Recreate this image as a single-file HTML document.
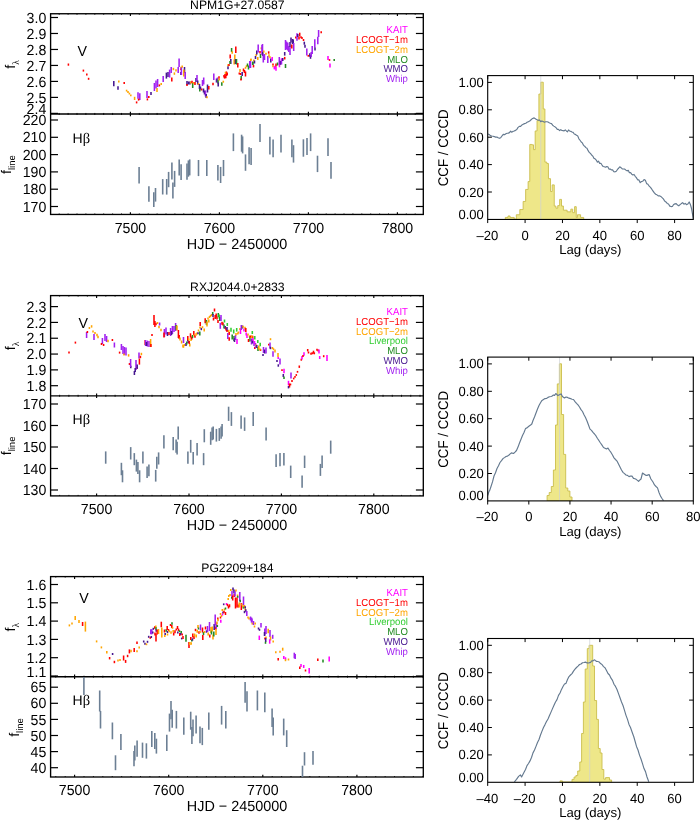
<!DOCTYPE html>
<html><head><meta charset="utf-8"><title>Light curves and CCF</title>
<style>html,body{margin:0;padding:0;background:#fff}svg{display:block;will-change:transform}text{font-family:"Liberation Sans", sans-serif;text-rendering:geometricPrecision}</style>
</head><body>
<svg width="700" height="820" viewBox="0 0 700 820">
<rect width="700" height="820" fill="#fff"/>
<g>
<line x1="68.4" y1="63.5" x2="68.4" y2="65.7" stroke="#ff0000" stroke-width="1.55"/>
<line x1="83.4" y1="69.6" x2="83.4" y2="71.6" stroke="#ff0000" stroke-width="1.55"/>
<line x1="86.8" y1="73.6" x2="86.8" y2="75.6" stroke="#ff0000" stroke-width="1.55"/>
<line x1="88.6" y1="77.8" x2="88.6" y2="79.8" stroke="#ff0000" stroke-width="1.55"/>
<line x1="113.8" y1="81" x2="113.8" y2="86.2" stroke="#46168f" stroke-width="1.55"/>
<line x1="118" y1="86.3" x2="118" y2="89.7" stroke="#46168f" stroke-width="1.55"/>
<line x1="118.8" y1="80.4" x2="118.8" y2="82.4" stroke="#ffa500" stroke-width="1.55"/>
<line x1="124.2" y1="82" x2="124.2" y2="84" stroke="#ff0000" stroke-width="1.55"/>
<line x1="126.6" y1="89.7" x2="126.6" y2="91.5" stroke="#ffa500" stroke-width="1.55"/>
<line x1="128" y1="91.1" x2="128" y2="92.9" stroke="#ffa500" stroke-width="1.55"/>
<line x1="129.4" y1="92.7" x2="129.4" y2="94.5" stroke="#ffa500" stroke-width="1.55"/>
<line x1="130.8" y1="94.5" x2="130.8" y2="96.3" stroke="#ffa500" stroke-width="1.55"/>
<line x1="134.6" y1="96.8" x2="134.6" y2="100" stroke="#ffa500" stroke-width="1.55"/>
<line x1="136.6" y1="101.4" x2="136.6" y2="103.4" stroke="#ff0000" stroke-width="1.55"/>
<line x1="138" y1="92.3" x2="138" y2="98.7" stroke="#a020f0" stroke-width="1.55"/>
<line x1="139.8" y1="93.2" x2="139.8" y2="100" stroke="#a020f0" stroke-width="1.55"/>
<line x1="138.6" y1="98.6" x2="138.6" y2="100.6" stroke="#ff0000" stroke-width="1.55"/>
<line x1="147" y1="90.9" x2="147" y2="97.9" stroke="#a020f0" stroke-width="1.55"/>
<line x1="147.4" y1="98.4" x2="147.4" y2="100.4" stroke="#ff0000" stroke-width="1.55"/>
<line x1="148.8" y1="96" x2="148.8" y2="98" stroke="#ff0000" stroke-width="1.55"/>
<line x1="151" y1="91.9" x2="151" y2="94.9" stroke="#46168f" stroke-width="1.55"/>
<line x1="154.4" y1="83" x2="154.4" y2="91" stroke="#a020f0" stroke-width="1.55"/>
<line x1="156" y1="80.4" x2="156" y2="88.4" stroke="#a020f0" stroke-width="1.55"/>
<line x1="157.6" y1="79" x2="157.6" y2="87" stroke="#a020f0" stroke-width="1.55"/>
<line x1="157" y1="88" x2="157" y2="92" stroke="#ffa500" stroke-width="1.55"/>
<line x1="159.4" y1="84.4" x2="159.4" y2="86.4" stroke="#ff0000" stroke-width="1.55"/>
<line x1="161.2" y1="83" x2="161.2" y2="85" stroke="#ffa500" stroke-width="1.55"/>
<line x1="163.2" y1="76" x2="163.2" y2="82" stroke="#a020f0" stroke-width="1.55"/>
<line x1="166.4" y1="72.6" x2="166.4" y2="78.6" stroke="#46168f" stroke-width="1.55"/>
<line x1="168" y1="71.9" x2="168" y2="76.9" stroke="#46168f" stroke-width="1.55"/>
<line x1="169.6" y1="69.6" x2="169.6" y2="77.6" stroke="#a020f0" stroke-width="1.55"/>
<line x1="171.2" y1="67" x2="171.2" y2="73" stroke="#a020f0" stroke-width="1.55"/>
<line x1="171.8" y1="77.6" x2="171.8" y2="81.6" stroke="#ff0000" stroke-width="1.55"/>
<line x1="173.4" y1="67.8" x2="173.4" y2="70.2" stroke="#ffa500" stroke-width="1.55"/>
<line x1="174.4" y1="72.4" x2="174.4" y2="74.8" stroke="#ffa500" stroke-width="1.55"/>
<line x1="176" y1="69.2" x2="176" y2="71.6" stroke="#ffa500" stroke-width="1.55"/>
<line x1="179.1" y1="58.6" x2="179.1" y2="67" stroke="#a020f0" stroke-width="1.55"/>
<line x1="178.2" y1="67" x2="178.2" y2="73" stroke="#a020f0" stroke-width="1.55"/>
<line x1="180.9" y1="68" x2="180.9" y2="70" stroke="#ff0000" stroke-width="1.55"/>
<line x1="180.9" y1="72" x2="180.9" y2="75" stroke="#46168f" stroke-width="1.55"/>
<line x1="181" y1="66.8" x2="181" y2="69.2" stroke="#ffa500" stroke-width="1.55"/>
<line x1="181.4" y1="67" x2="181.4" y2="75" stroke="#a020f0" stroke-width="1.55"/>
<line x1="182.2" y1="65.4" x2="182.2" y2="67.8" stroke="#ffa500" stroke-width="1.55"/>
<line x1="184.5" y1="67" x2="184.5" y2="73" stroke="#46168f" stroke-width="1.55"/>
<line x1="183.8" y1="69.5" x2="183.8" y2="76.5" stroke="#ffa500" stroke-width="1.55"/>
<line x1="185.2" y1="72" x2="185.2" y2="79" stroke="#a020f0" stroke-width="1.55"/>
<line x1="187" y1="81" x2="187" y2="85" stroke="#46168f" stroke-width="1.55"/>
<line x1="187" y1="84" x2="187" y2="86" stroke="#ff0000" stroke-width="1.55"/>
<line x1="188.5" y1="81.5" x2="188.5" y2="84.5" stroke="#46168f" stroke-width="1.55"/>
<line x1="190" y1="81.5" x2="190" y2="84.5" stroke="#46168f" stroke-width="1.55"/>
<line x1="190.8" y1="81.5" x2="190.8" y2="83.5" stroke="#ffa500" stroke-width="1.55"/>
<line x1="192" y1="80.8" x2="192" y2="83.2" stroke="#ff0000" stroke-width="1.55"/>
<line x1="192.7" y1="83" x2="192.7" y2="88" stroke="#228b22" stroke-width="1.55"/>
<line x1="193.5" y1="82" x2="193.5" y2="84" stroke="#ffa500" stroke-width="1.55"/>
<line x1="195" y1="82" x2="195" y2="85" stroke="#ff0000" stroke-width="1.55"/>
<line x1="196" y1="78" x2="196" y2="82" stroke="#46168f" stroke-width="1.55"/>
<line x1="197" y1="75" x2="197" y2="81" stroke="#a020f0" stroke-width="1.55"/>
<line x1="197.7" y1="80.5" x2="197.7" y2="84.5" stroke="#46168f" stroke-width="1.55"/>
<line x1="198.5" y1="83" x2="198.5" y2="85" stroke="#ffa500" stroke-width="1.55"/>
<line x1="199.5" y1="84" x2="199.5" y2="89" stroke="#46168f" stroke-width="1.55"/>
<line x1="199.8" y1="88.5" x2="199.8" y2="91.5" stroke="#228b22" stroke-width="1.55"/>
<line x1="200.5" y1="86.5" x2="200.5" y2="89.5" stroke="#46168f" stroke-width="1.55"/>
<line x1="201.7" y1="88.5" x2="201.7" y2="90.5" stroke="#ff0000" stroke-width="1.55"/>
<line x1="202.5" y1="80" x2="202.5" y2="86" stroke="#a020f0" stroke-width="1.55"/>
<line x1="203.7" y1="77.5" x2="203.7" y2="84.5" stroke="#a020f0" stroke-width="1.55"/>
<line x1="203.5" y1="88.5" x2="203.5" y2="92.5" stroke="#46168f" stroke-width="1.55"/>
<line x1="204.5" y1="90.5" x2="204.5" y2="94.5" stroke="#46168f" stroke-width="1.55"/>
<line x1="205.5" y1="90.5" x2="205.5" y2="96.5" stroke="#a020f0" stroke-width="1.55"/>
<line x1="206.2" y1="94" x2="206.2" y2="98" stroke="#46168f" stroke-width="1.55"/>
<line x1="207" y1="96.2" x2="207" y2="98.2" stroke="#ffa500" stroke-width="1.55"/>
<line x1="207.5" y1="84.5" x2="207.5" y2="92.5" stroke="#46168f" stroke-width="1.55"/>
<line x1="208.8" y1="86" x2="208.8" y2="89.6" stroke="#ff0000" stroke-width="1.55"/>
<line x1="213" y1="82.7" x2="213" y2="85.3" stroke="#ff0000" stroke-width="1.55"/>
<line x1="213.8" y1="73.6" x2="213.8" y2="80" stroke="#a020f0" stroke-width="1.55"/>
<line x1="216.5" y1="78.5" x2="216.5" y2="82.5" stroke="#46168f" stroke-width="1.55"/>
<line x1="217.5" y1="77.5" x2="217.5" y2="82.5" stroke="#a020f0" stroke-width="1.55"/>
<line x1="218" y1="79.5" x2="218" y2="83.5" stroke="#228b22" stroke-width="1.55"/>
<line x1="219" y1="76.3" x2="219" y2="78.7" stroke="#ff0000" stroke-width="1.55"/>
<line x1="219.2" y1="78.5" x2="219.2" y2="80.5" stroke="#ffa500" stroke-width="1.55"/>
<line x1="218.2" y1="82.5" x2="218.2" y2="86.5" stroke="#46168f" stroke-width="1.55"/>
<line x1="221.8" y1="82.2" x2="221.8" y2="85.8" stroke="#228b22" stroke-width="1.55"/>
<line x1="223.3" y1="80.7" x2="223.3" y2="82.7" stroke="#ffa500" stroke-width="1.55"/>
<line x1="224" y1="74.9" x2="224" y2="77.5" stroke="#ff0000" stroke-width="1.55"/>
<line x1="225" y1="74.1" x2="225" y2="76.9" stroke="#ff0000" stroke-width="1.55"/>
<line x1="226.2" y1="73" x2="226.2" y2="76" stroke="#ff0000" stroke-width="1.55"/>
<line x1="227.2" y1="72.6" x2="227.2" y2="75.4" stroke="#ff0000" stroke-width="1.55"/>
<line x1="225.8" y1="75.8" x2="225.8" y2="78.2" stroke="#ff0000" stroke-width="1.55"/>
<line x1="224.6" y1="76.4" x2="224.6" y2="78.6" stroke="#ff0000" stroke-width="1.55"/>
<line x1="226.4" y1="71.4" x2="226.4" y2="73.6" stroke="#ff0000" stroke-width="1.55"/>
<line x1="225.5" y1="71.8" x2="225.5" y2="73.8" stroke="#ffa500" stroke-width="1.55"/>
<line x1="228" y1="66.3" x2="228" y2="69.3" stroke="#46168f" stroke-width="1.55"/>
<line x1="228" y1="64.2" x2="228" y2="66.2" stroke="#ffa500" stroke-width="1.55"/>
<line x1="229" y1="64" x2="229" y2="66" stroke="#ff0000" stroke-width="1.55"/>
<line x1="230.2" y1="54.5" x2="230.2" y2="58.5" stroke="#ff0000" stroke-width="1.55"/>
<line x1="230.8" y1="59" x2="230.8" y2="64" stroke="#46168f" stroke-width="1.55"/>
<line x1="230" y1="61" x2="230" y2="64" stroke="#228b22" stroke-width="1.55"/>
<line x1="231.6" y1="48" x2="231.6" y2="52" stroke="#228b22" stroke-width="1.55"/>
<line x1="232.2" y1="51.3" x2="232.2" y2="53.7" stroke="#ffa500" stroke-width="1.55"/>
<line x1="234.8" y1="54.5" x2="234.8" y2="59.5" stroke="#ffa500" stroke-width="1.55"/>
<line x1="234.2" y1="59.5" x2="234.2" y2="64.5" stroke="#ffa500" stroke-width="1.55"/>
<line x1="235.8" y1="46.5" x2="235.8" y2="53.1" stroke="#ff0000" stroke-width="1.55"/>
<line x1="235.5" y1="59" x2="235.5" y2="64" stroke="#46168f" stroke-width="1.55"/>
<line x1="236.5" y1="59" x2="236.5" y2="64.6" stroke="#228b22" stroke-width="1.55"/>
<line x1="237.8" y1="63" x2="237.8" y2="67.4" stroke="#ff0000" stroke-width="1.55"/>
<line x1="240" y1="69" x2="240" y2="72" stroke="#ffa500" stroke-width="1.55"/>
<line x1="239.3" y1="72.5" x2="239.3" y2="74.5" stroke="#ff0000" stroke-width="1.55"/>
<line x1="240.5" y1="73" x2="240.5" y2="75" stroke="#ff0000" stroke-width="1.55"/>
<line x1="242.2" y1="72" x2="242.2" y2="76" stroke="#46168f" stroke-width="1.55"/>
<line x1="241.2" y1="76" x2="241.2" y2="80" stroke="#228b22" stroke-width="1.55"/>
<line x1="241" y1="78.6" x2="241" y2="80.4" stroke="#ff0000" stroke-width="1.55"/>
<line x1="243.5" y1="68.5" x2="243.5" y2="71.5" stroke="#ff0000" stroke-width="1.55"/>
<line x1="244.5" y1="70" x2="244.5" y2="73" stroke="#ff0000" stroke-width="1.55"/>
<line x1="245.5" y1="71.5" x2="245.5" y2="76.5" stroke="#ff0000" stroke-width="1.55"/>
<line x1="245.5" y1="66.8" x2="245.5" y2="68.8" stroke="#ffa500" stroke-width="1.55"/>
<line x1="246.5" y1="65.2" x2="246.5" y2="67.2" stroke="#ffa500" stroke-width="1.55"/>
<line x1="247.5" y1="63.5" x2="247.5" y2="66.5" stroke="#228b22" stroke-width="1.55"/>
<line x1="248.5" y1="65.5" x2="248.5" y2="69.5" stroke="#228b22" stroke-width="1.55"/>
<line x1="249.8" y1="61" x2="249.8" y2="68" stroke="#a020f0" stroke-width="1.55"/>
<line x1="251" y1="58.5" x2="251" y2="60.5" stroke="#ffa500" stroke-width="1.55"/>
<line x1="252.7" y1="62" x2="252.7" y2="65" stroke="#228b22" stroke-width="1.55"/>
<line x1="250.5" y1="61" x2="250.5" y2="68" stroke="#a020f0" stroke-width="1.55"/>
<line x1="250.8" y1="59" x2="250.8" y2="61" stroke="#ffa500" stroke-width="1.55"/>
<line x1="252.8" y1="61.4" x2="252.8" y2="65" stroke="#228b22" stroke-width="1.55"/>
<line x1="253.5" y1="65" x2="253.5" y2="67.4" stroke="#ff0000" stroke-width="1.55"/>
<line x1="253.8" y1="59.5" x2="253.8" y2="61.5" stroke="#ffa500" stroke-width="1.55"/>
<line x1="254.5" y1="60.5" x2="254.5" y2="63.5" stroke="#46168f" stroke-width="1.55"/>
<line x1="255.5" y1="56" x2="255.5" y2="59" stroke="#46168f" stroke-width="1.55"/>
<line x1="256.2" y1="54" x2="256.2" y2="56" stroke="#ffa500" stroke-width="1.55"/>
<line x1="256.8" y1="50.5" x2="256.8" y2="54.5" stroke="#46168f" stroke-width="1.55"/>
<line x1="257.8" y1="57" x2="257.8" y2="60" stroke="#ffa500" stroke-width="1.55"/>
<line x1="258.2" y1="44.5" x2="258.2" y2="52.5" stroke="#a020f0" stroke-width="1.55"/>
<line x1="260" y1="50.9" x2="260" y2="53.5" stroke="#ff0000" stroke-width="1.55"/>
<line x1="260.5" y1="54" x2="260.5" y2="58" stroke="#228b22" stroke-width="1.55"/>
<line x1="261.3" y1="47.3" x2="261.3" y2="49.3" stroke="#ffa500" stroke-width="1.55"/>
<line x1="262" y1="45" x2="262" y2="55" stroke="#a020f0" stroke-width="1.55"/>
<line x1="262.5" y1="44" x2="262.5" y2="52" stroke="#a020f0" stroke-width="1.55"/>
<line x1="262.8" y1="52" x2="262.8" y2="56" stroke="#46168f" stroke-width="1.55"/>
<line x1="263.3" y1="54.5" x2="263.3" y2="62.5" stroke="#a020f0" stroke-width="1.55"/>
<line x1="264.5" y1="54" x2="264.5" y2="60" stroke="#a020f0" stroke-width="1.55"/>
<line x1="263.8" y1="50.5" x2="263.8" y2="52.5" stroke="#ffa500" stroke-width="1.55"/>
<line x1="266" y1="52.8" x2="266" y2="54.8" stroke="#ffa500" stroke-width="1.55"/>
<line x1="268.7" y1="51.3" x2="268.7" y2="53.7" stroke="#ff0000" stroke-width="1.55"/>
<line x1="267.8" y1="56" x2="267.8" y2="63" stroke="#a020f0" stroke-width="1.55"/>
<line x1="269" y1="54.3" x2="269" y2="56.7" stroke="#ffa500" stroke-width="1.55"/>
<line x1="270" y1="56.2" x2="270" y2="58.2" stroke="#ffa500" stroke-width="1.55"/>
<line x1="270.8" y1="58.5" x2="270.8" y2="62.5" stroke="#46168f" stroke-width="1.55"/>
<line x1="272.2" y1="57" x2="272.2" y2="61" stroke="#ff00ff" stroke-width="1.55"/>
<line x1="273" y1="63.5" x2="273" y2="65.5" stroke="#ff0000" stroke-width="1.55"/>
<line x1="273" y1="65.2" x2="273" y2="67.2" stroke="#ffa500" stroke-width="1.55"/>
<line x1="274.3" y1="66.3" x2="274.3" y2="69.3" stroke="#ff00ff" stroke-width="1.55"/>
<line x1="275" y1="65.7" x2="275" y2="69.3" stroke="#ff00ff" stroke-width="1.55"/>
<line x1="276" y1="66.8" x2="276" y2="70.8" stroke="#ff00ff" stroke-width="1.55"/>
<line x1="276" y1="63.5" x2="276" y2="66.5" stroke="#ff0000" stroke-width="1.55"/>
<line x1="277.5" y1="62.5" x2="277.5" y2="65.5" stroke="#228b22" stroke-width="1.55"/>
<line x1="279.3" y1="57" x2="279.3" y2="65" stroke="#a020f0" stroke-width="1.55"/>
<line x1="279.5" y1="63.7" x2="279.5" y2="67.3" stroke="#ff00ff" stroke-width="1.55"/>
<line x1="280.5" y1="60.8" x2="280.5" y2="64.8" stroke="#46168f" stroke-width="1.55"/>
<line x1="281.5" y1="58.5" x2="281.5" y2="64.5" stroke="#a020f0" stroke-width="1.55"/>
<line x1="282.2" y1="58" x2="282.2" y2="61" stroke="#ff00ff" stroke-width="1.55"/>
<line x1="282.8" y1="58" x2="282.8" y2="61" stroke="#46168f" stroke-width="1.55"/>
<line x1="284.7" y1="56.9" x2="284.7" y2="59.5" stroke="#ff0000" stroke-width="1.55"/>
<line x1="284.7" y1="52" x2="284.7" y2="55.6" stroke="#46168f" stroke-width="1.55"/>
<line x1="285.5" y1="64" x2="285.5" y2="68" stroke="#228b22" stroke-width="1.55"/>
<line x1="285.5" y1="40" x2="285.5" y2="50" stroke="#a020f0" stroke-width="1.55"/>
<line x1="286.5" y1="41.5" x2="286.5" y2="49.5" stroke="#a020f0" stroke-width="1.55"/>
<line x1="287.8" y1="42.5" x2="287.8" y2="50.5" stroke="#a020f0" stroke-width="1.55"/>
<line x1="288.8" y1="46" x2="288.8" y2="52" stroke="#a020f0" stroke-width="1.55"/>
<line x1="290" y1="47" x2="290" y2="55" stroke="#a020f0" stroke-width="1.55"/>
<line x1="290" y1="42" x2="290" y2="47" stroke="#46168f" stroke-width="1.55"/>
<line x1="291" y1="37.5" x2="291" y2="42.5" stroke="#46168f" stroke-width="1.55"/>
<line x1="291.8" y1="44.5" x2="291.8" y2="48.5" stroke="#ff0000" stroke-width="1.55"/>
<line x1="292.5" y1="39" x2="292.5" y2="44" stroke="#46168f" stroke-width="1.55"/>
<line x1="293.2" y1="39.5" x2="293.2" y2="43.5" stroke="#46168f" stroke-width="1.55"/>
<line x1="293.7" y1="43" x2="293.7" y2="51" stroke="#a020f0" stroke-width="1.55"/>
<line x1="295.8" y1="36.5" x2="295.8" y2="38.5" stroke="#ff0000" stroke-width="1.55"/>
<line x1="297" y1="33.2" x2="297" y2="40.8" stroke="#a020f0" stroke-width="1.55"/>
<line x1="297.8" y1="34" x2="297.8" y2="37" stroke="#46168f" stroke-width="1.55"/>
<line x1="299" y1="36.5" x2="299" y2="39.5" stroke="#ff0000" stroke-width="1.55"/>
<line x1="299.7" y1="32.7" x2="299.7" y2="36.3" stroke="#ff0000" stroke-width="1.55"/>
<line x1="301" y1="36.2" x2="301" y2="38.2" stroke="#ff0000" stroke-width="1.55"/>
<line x1="302" y1="37" x2="302" y2="39" stroke="#ff0000" stroke-width="1.55"/>
<line x1="303.5" y1="39" x2="303.5" y2="41" stroke="#ff0000" stroke-width="1.55"/>
<line x1="304.3" y1="41.7" x2="304.3" y2="44.7" stroke="#46168f" stroke-width="1.55"/>
<line x1="305" y1="44.7" x2="305" y2="47.7" stroke="#46168f" stroke-width="1.55"/>
<line x1="306.8" y1="48.5" x2="306.8" y2="55.5" stroke="#a020f0" stroke-width="1.55"/>
<line x1="308.3" y1="54.9" x2="308.3" y2="56.7" stroke="#ff0000" stroke-width="1.55"/>
<line x1="309.8" y1="53.2" x2="309.8" y2="56.8" stroke="#46168f" stroke-width="1.55"/>
<line x1="310.5" y1="55.2" x2="310.5" y2="58.8" stroke="#46168f" stroke-width="1.55"/>
<line x1="311.2" y1="52" x2="311.2" y2="57" stroke="#a020f0" stroke-width="1.55"/>
<line x1="312.2" y1="46" x2="312.2" y2="54" stroke="#a020f0" stroke-width="1.55"/>
<line x1="314.8" y1="39.3" x2="314.8" y2="47.7" stroke="#a020f0" stroke-width="1.55"/>
<line x1="315" y1="47.5" x2="315" y2="50.5" stroke="#46168f" stroke-width="1.55"/>
<line x1="317.8" y1="36.7" x2="317.8" y2="44.3" stroke="#a020f0" stroke-width="1.55"/>
<line x1="318.6" y1="30" x2="318.6" y2="37" stroke="#a020f0" stroke-width="1.55"/>
<line x1="321.2" y1="31.2" x2="321.2" y2="33.2" stroke="#ff0000" stroke-width="1.55"/>
<line x1="328" y1="56" x2="328" y2="60" stroke="#ff00ff" stroke-width="1.55"/>
<line x1="330" y1="63.5" x2="330" y2="67.5" stroke="#ff00ff" stroke-width="1.55"/>
<line x1="329.5" y1="59.1" x2="329.5" y2="60.9" stroke="#ff0000" stroke-width="1.55"/>
<line x1="334.2" y1="59" x2="334.2" y2="61" stroke="#228b22" stroke-width="1.55"/>
<line x1="59.2" y1="13.75" x2="59.2" y2="14.75" stroke="#000" stroke-width="0.85"/>
<line x1="59.2" y1="112.95" x2="59.2" y2="114.95" stroke="#000" stroke-width="0.85"/>
<line x1="59.2" y1="213.45" x2="59.2" y2="214.45" stroke="#000" stroke-width="0.85"/>
<line x1="68.1" y1="13.75" x2="68.1" y2="14.75" stroke="#000" stroke-width="0.85"/>
<line x1="68.1" y1="112.95" x2="68.1" y2="114.95" stroke="#000" stroke-width="0.85"/>
<line x1="68.1" y1="213.45" x2="68.1" y2="214.45" stroke="#000" stroke-width="0.85"/>
<line x1="77" y1="13.75" x2="77" y2="14.75" stroke="#000" stroke-width="0.85"/>
<line x1="77" y1="112.95" x2="77" y2="114.95" stroke="#000" stroke-width="0.85"/>
<line x1="77" y1="213.45" x2="77" y2="214.45" stroke="#000" stroke-width="0.85"/>
<line x1="85.9" y1="13.75" x2="85.9" y2="14.75" stroke="#000" stroke-width="0.85"/>
<line x1="85.9" y1="112.95" x2="85.9" y2="114.95" stroke="#000" stroke-width="0.85"/>
<line x1="85.9" y1="213.45" x2="85.9" y2="214.45" stroke="#000" stroke-width="0.85"/>
<line x1="94.8" y1="13.75" x2="94.8" y2="14.75" stroke="#000" stroke-width="0.85"/>
<line x1="94.8" y1="112.95" x2="94.8" y2="114.95" stroke="#000" stroke-width="0.85"/>
<line x1="94.8" y1="213.45" x2="94.8" y2="214.45" stroke="#000" stroke-width="0.85"/>
<line x1="103.7" y1="13.75" x2="103.7" y2="14.75" stroke="#000" stroke-width="0.85"/>
<line x1="103.7" y1="112.95" x2="103.7" y2="114.95" stroke="#000" stroke-width="0.85"/>
<line x1="103.7" y1="213.45" x2="103.7" y2="214.45" stroke="#000" stroke-width="0.85"/>
<line x1="112.6" y1="13.75" x2="112.6" y2="14.75" stroke="#000" stroke-width="0.85"/>
<line x1="112.6" y1="112.95" x2="112.6" y2="114.95" stroke="#000" stroke-width="0.85"/>
<line x1="112.6" y1="213.45" x2="112.6" y2="214.45" stroke="#000" stroke-width="0.85"/>
<line x1="121.5" y1="13.75" x2="121.5" y2="14.75" stroke="#000" stroke-width="0.85"/>
<line x1="121.5" y1="112.95" x2="121.5" y2="114.95" stroke="#000" stroke-width="0.85"/>
<line x1="121.5" y1="213.45" x2="121.5" y2="214.45" stroke="#000" stroke-width="0.85"/>
<line x1="130.4" y1="13.75" x2="130.4" y2="16.05" stroke="#000" stroke-width="1.15"/>
<line x1="130.4" y1="111.65" x2="130.4" y2="116.25" stroke="#000" stroke-width="1.15"/>
<line x1="130.4" y1="212.15" x2="130.4" y2="214.45" stroke="#000" stroke-width="1.15"/>
<text transform="translate(130.4,232.85) scale(0.97,1)" font-size="14.6" text-anchor="middle" fill="#000">7500</text>
<line x1="139.3" y1="13.75" x2="139.3" y2="14.75" stroke="#000" stroke-width="0.85"/>
<line x1="139.3" y1="112.95" x2="139.3" y2="114.95" stroke="#000" stroke-width="0.85"/>
<line x1="139.3" y1="213.45" x2="139.3" y2="214.45" stroke="#000" stroke-width="0.85"/>
<line x1="148.2" y1="13.75" x2="148.2" y2="14.75" stroke="#000" stroke-width="0.85"/>
<line x1="148.2" y1="112.95" x2="148.2" y2="114.95" stroke="#000" stroke-width="0.85"/>
<line x1="148.2" y1="213.45" x2="148.2" y2="214.45" stroke="#000" stroke-width="0.85"/>
<line x1="157.1" y1="13.75" x2="157.1" y2="14.75" stroke="#000" stroke-width="0.85"/>
<line x1="157.1" y1="112.95" x2="157.1" y2="114.95" stroke="#000" stroke-width="0.85"/>
<line x1="157.1" y1="213.45" x2="157.1" y2="214.45" stroke="#000" stroke-width="0.85"/>
<line x1="166" y1="13.75" x2="166" y2="14.75" stroke="#000" stroke-width="0.85"/>
<line x1="166" y1="112.95" x2="166" y2="114.95" stroke="#000" stroke-width="0.85"/>
<line x1="166" y1="213.45" x2="166" y2="214.45" stroke="#000" stroke-width="0.85"/>
<line x1="174.9" y1="13.75" x2="174.9" y2="14.75" stroke="#000" stroke-width="0.85"/>
<line x1="174.9" y1="112.95" x2="174.9" y2="114.95" stroke="#000" stroke-width="0.85"/>
<line x1="174.9" y1="213.45" x2="174.9" y2="214.45" stroke="#000" stroke-width="0.85"/>
<line x1="183.8" y1="13.75" x2="183.8" y2="14.75" stroke="#000" stroke-width="0.85"/>
<line x1="183.8" y1="112.95" x2="183.8" y2="114.95" stroke="#000" stroke-width="0.85"/>
<line x1="183.8" y1="213.45" x2="183.8" y2="214.45" stroke="#000" stroke-width="0.85"/>
<line x1="192.7" y1="13.75" x2="192.7" y2="14.75" stroke="#000" stroke-width="0.85"/>
<line x1="192.7" y1="112.95" x2="192.7" y2="114.95" stroke="#000" stroke-width="0.85"/>
<line x1="192.7" y1="213.45" x2="192.7" y2="214.45" stroke="#000" stroke-width="0.85"/>
<line x1="201.6" y1="13.75" x2="201.6" y2="14.75" stroke="#000" stroke-width="0.85"/>
<line x1="201.6" y1="112.95" x2="201.6" y2="114.95" stroke="#000" stroke-width="0.85"/>
<line x1="201.6" y1="213.45" x2="201.6" y2="214.45" stroke="#000" stroke-width="0.85"/>
<line x1="210.5" y1="13.75" x2="210.5" y2="14.75" stroke="#000" stroke-width="0.85"/>
<line x1="210.5" y1="112.95" x2="210.5" y2="114.95" stroke="#000" stroke-width="0.85"/>
<line x1="210.5" y1="213.45" x2="210.5" y2="214.45" stroke="#000" stroke-width="0.85"/>
<line x1="219.4" y1="13.75" x2="219.4" y2="16.05" stroke="#000" stroke-width="1.15"/>
<line x1="219.4" y1="111.65" x2="219.4" y2="116.25" stroke="#000" stroke-width="1.15"/>
<line x1="219.4" y1="212.15" x2="219.4" y2="214.45" stroke="#000" stroke-width="1.15"/>
<text transform="translate(219.4,232.85) scale(0.97,1)" font-size="14.6" text-anchor="middle" fill="#000">7600</text>
<line x1="228.3" y1="13.75" x2="228.3" y2="14.75" stroke="#000" stroke-width="0.85"/>
<line x1="228.3" y1="112.95" x2="228.3" y2="114.95" stroke="#000" stroke-width="0.85"/>
<line x1="228.3" y1="213.45" x2="228.3" y2="214.45" stroke="#000" stroke-width="0.85"/>
<line x1="237.2" y1="13.75" x2="237.2" y2="14.75" stroke="#000" stroke-width="0.85"/>
<line x1="237.2" y1="112.95" x2="237.2" y2="114.95" stroke="#000" stroke-width="0.85"/>
<line x1="237.2" y1="213.45" x2="237.2" y2="214.45" stroke="#000" stroke-width="0.85"/>
<line x1="246.1" y1="13.75" x2="246.1" y2="14.75" stroke="#000" stroke-width="0.85"/>
<line x1="246.1" y1="112.95" x2="246.1" y2="114.95" stroke="#000" stroke-width="0.85"/>
<line x1="246.1" y1="213.45" x2="246.1" y2="214.45" stroke="#000" stroke-width="0.85"/>
<line x1="255" y1="13.75" x2="255" y2="14.75" stroke="#000" stroke-width="0.85"/>
<line x1="255" y1="112.95" x2="255" y2="114.95" stroke="#000" stroke-width="0.85"/>
<line x1="255" y1="213.45" x2="255" y2="214.45" stroke="#000" stroke-width="0.85"/>
<line x1="263.9" y1="13.75" x2="263.9" y2="14.75" stroke="#000" stroke-width="0.85"/>
<line x1="263.9" y1="112.95" x2="263.9" y2="114.95" stroke="#000" stroke-width="0.85"/>
<line x1="263.9" y1="213.45" x2="263.9" y2="214.45" stroke="#000" stroke-width="0.85"/>
<line x1="272.8" y1="13.75" x2="272.8" y2="14.75" stroke="#000" stroke-width="0.85"/>
<line x1="272.8" y1="112.95" x2="272.8" y2="114.95" stroke="#000" stroke-width="0.85"/>
<line x1="272.8" y1="213.45" x2="272.8" y2="214.45" stroke="#000" stroke-width="0.85"/>
<line x1="281.7" y1="13.75" x2="281.7" y2="14.75" stroke="#000" stroke-width="0.85"/>
<line x1="281.7" y1="112.95" x2="281.7" y2="114.95" stroke="#000" stroke-width="0.85"/>
<line x1="281.7" y1="213.45" x2="281.7" y2="214.45" stroke="#000" stroke-width="0.85"/>
<line x1="290.6" y1="13.75" x2="290.6" y2="14.75" stroke="#000" stroke-width="0.85"/>
<line x1="290.6" y1="112.95" x2="290.6" y2="114.95" stroke="#000" stroke-width="0.85"/>
<line x1="290.6" y1="213.45" x2="290.6" y2="214.45" stroke="#000" stroke-width="0.85"/>
<line x1="299.5" y1="13.75" x2="299.5" y2="14.75" stroke="#000" stroke-width="0.85"/>
<line x1="299.5" y1="112.95" x2="299.5" y2="114.95" stroke="#000" stroke-width="0.85"/>
<line x1="299.5" y1="213.45" x2="299.5" y2="214.45" stroke="#000" stroke-width="0.85"/>
<line x1="308.4" y1="13.75" x2="308.4" y2="16.05" stroke="#000" stroke-width="1.15"/>
<line x1="308.4" y1="111.65" x2="308.4" y2="116.25" stroke="#000" stroke-width="1.15"/>
<line x1="308.4" y1="212.15" x2="308.4" y2="214.45" stroke="#000" stroke-width="1.15"/>
<text transform="translate(308.4,232.85) scale(0.97,1)" font-size="14.6" text-anchor="middle" fill="#000">7700</text>
<line x1="317.3" y1="13.75" x2="317.3" y2="14.75" stroke="#000" stroke-width="0.85"/>
<line x1="317.3" y1="112.95" x2="317.3" y2="114.95" stroke="#000" stroke-width="0.85"/>
<line x1="317.3" y1="213.45" x2="317.3" y2="214.45" stroke="#000" stroke-width="0.85"/>
<line x1="326.2" y1="13.75" x2="326.2" y2="14.75" stroke="#000" stroke-width="0.85"/>
<line x1="326.2" y1="112.95" x2="326.2" y2="114.95" stroke="#000" stroke-width="0.85"/>
<line x1="326.2" y1="213.45" x2="326.2" y2="214.45" stroke="#000" stroke-width="0.85"/>
<line x1="335.1" y1="13.75" x2="335.1" y2="14.75" stroke="#000" stroke-width="0.85"/>
<line x1="335.1" y1="112.95" x2="335.1" y2="114.95" stroke="#000" stroke-width="0.85"/>
<line x1="335.1" y1="213.45" x2="335.1" y2="214.45" stroke="#000" stroke-width="0.85"/>
<line x1="344" y1="13.75" x2="344" y2="14.75" stroke="#000" stroke-width="0.85"/>
<line x1="344" y1="112.95" x2="344" y2="114.95" stroke="#000" stroke-width="0.85"/>
<line x1="344" y1="213.45" x2="344" y2="214.45" stroke="#000" stroke-width="0.85"/>
<line x1="352.9" y1="13.75" x2="352.9" y2="14.75" stroke="#000" stroke-width="0.85"/>
<line x1="352.9" y1="112.95" x2="352.9" y2="114.95" stroke="#000" stroke-width="0.85"/>
<line x1="352.9" y1="213.45" x2="352.9" y2="214.45" stroke="#000" stroke-width="0.85"/>
<line x1="361.8" y1="13.75" x2="361.8" y2="14.75" stroke="#000" stroke-width="0.85"/>
<line x1="361.8" y1="112.95" x2="361.8" y2="114.95" stroke="#000" stroke-width="0.85"/>
<line x1="361.8" y1="213.45" x2="361.8" y2="214.45" stroke="#000" stroke-width="0.85"/>
<line x1="370.7" y1="13.75" x2="370.7" y2="14.75" stroke="#000" stroke-width="0.85"/>
<line x1="370.7" y1="112.95" x2="370.7" y2="114.95" stroke="#000" stroke-width="0.85"/>
<line x1="370.7" y1="213.45" x2="370.7" y2="214.45" stroke="#000" stroke-width="0.85"/>
<line x1="379.6" y1="13.75" x2="379.6" y2="14.75" stroke="#000" stroke-width="0.85"/>
<line x1="379.6" y1="112.95" x2="379.6" y2="114.95" stroke="#000" stroke-width="0.85"/>
<line x1="379.6" y1="213.45" x2="379.6" y2="214.45" stroke="#000" stroke-width="0.85"/>
<line x1="388.5" y1="13.75" x2="388.5" y2="14.75" stroke="#000" stroke-width="0.85"/>
<line x1="388.5" y1="112.95" x2="388.5" y2="114.95" stroke="#000" stroke-width="0.85"/>
<line x1="388.5" y1="213.45" x2="388.5" y2="214.45" stroke="#000" stroke-width="0.85"/>
<line x1="397.4" y1="13.75" x2="397.4" y2="16.05" stroke="#000" stroke-width="1.15"/>
<line x1="397.4" y1="111.65" x2="397.4" y2="116.25" stroke="#000" stroke-width="1.15"/>
<line x1="397.4" y1="212.15" x2="397.4" y2="214.45" stroke="#000" stroke-width="1.15"/>
<text transform="translate(397.4,232.85) scale(0.97,1)" font-size="14.6" text-anchor="middle" fill="#000">7800</text>
<line x1="406.3" y1="13.75" x2="406.3" y2="14.75" stroke="#000" stroke-width="0.85"/>
<line x1="406.3" y1="112.95" x2="406.3" y2="114.95" stroke="#000" stroke-width="0.85"/>
<line x1="406.3" y1="213.45" x2="406.3" y2="214.45" stroke="#000" stroke-width="0.85"/>
<line x1="415.2" y1="13.75" x2="415.2" y2="14.75" stroke="#000" stroke-width="0.85"/>
<line x1="415.2" y1="112.95" x2="415.2" y2="114.95" stroke="#000" stroke-width="0.85"/>
<line x1="415.2" y1="213.45" x2="415.2" y2="214.45" stroke="#000" stroke-width="0.85"/>
<rect x="50.6" y="13.75" width="372.7" height="200.7" fill="none" stroke="#000" stroke-width="1.35"/>
<line x1="50.6" y1="113.95" x2="423.3" y2="113.95" stroke="#000" stroke-width="1.35"/>
<line x1="50.6" y1="17.5" x2="58" y2="17.5" stroke="#000" stroke-width="1.2"/>
<line x1="415.9" y1="17.5" x2="423.3" y2="17.5" stroke="#000" stroke-width="1.2"/>
<text transform="translate(46.3,22.65) scale(0.97,1)" font-size="14.6" text-anchor="end" fill="#000">3.0</text>
<line x1="50.6" y1="33.48" x2="58" y2="33.48" stroke="#000" stroke-width="1.2"/>
<line x1="415.9" y1="33.48" x2="423.3" y2="33.48" stroke="#000" stroke-width="1.2"/>
<text transform="translate(46.3,38.63) scale(0.97,1)" font-size="14.6" text-anchor="end" fill="#000">2.9</text>
<line x1="50.6" y1="49.46" x2="58" y2="49.46" stroke="#000" stroke-width="1.2"/>
<line x1="415.9" y1="49.46" x2="423.3" y2="49.46" stroke="#000" stroke-width="1.2"/>
<text transform="translate(46.3,54.61) scale(0.97,1)" font-size="14.6" text-anchor="end" fill="#000">2.8</text>
<line x1="50.6" y1="65.44" x2="58" y2="65.44" stroke="#000" stroke-width="1.2"/>
<line x1="415.9" y1="65.44" x2="423.3" y2="65.44" stroke="#000" stroke-width="1.2"/>
<text transform="translate(46.3,70.59) scale(0.97,1)" font-size="14.6" text-anchor="end" fill="#000">2.7</text>
<line x1="50.6" y1="81.42" x2="58" y2="81.42" stroke="#000" stroke-width="1.2"/>
<line x1="415.9" y1="81.42" x2="423.3" y2="81.42" stroke="#000" stroke-width="1.2"/>
<text transform="translate(46.3,86.57) scale(0.97,1)" font-size="14.6" text-anchor="end" fill="#000">2.6</text>
<line x1="50.6" y1="97.4" x2="58" y2="97.4" stroke="#000" stroke-width="1.2"/>
<line x1="415.9" y1="97.4" x2="423.3" y2="97.4" stroke="#000" stroke-width="1.2"/>
<text transform="translate(46.3,102.55) scale(0.97,1)" font-size="14.6" text-anchor="end" fill="#000">2.5</text>
<line x1="50.6" y1="113.38" x2="58" y2="113.38" stroke="#000" stroke-width="1.2"/>
<line x1="415.9" y1="113.38" x2="423.3" y2="113.38" stroke="#000" stroke-width="1.2"/>
<text transform="translate(46.3,114.23) scale(0.97,1)" font-size="14.6" text-anchor="end" fill="#000">2.4</text>
<line x1="50.6" y1="120" x2="58" y2="120" stroke="#000" stroke-width="1.2"/>
<line x1="415.9" y1="120" x2="423.3" y2="120" stroke="#000" stroke-width="1.2"/>
<text transform="translate(46.3,125.15) scale(0.97,1)" font-size="14.6" text-anchor="end" fill="#000">220</text>
<line x1="50.6" y1="137.3" x2="58" y2="137.3" stroke="#000" stroke-width="1.2"/>
<line x1="415.9" y1="137.3" x2="423.3" y2="137.3" stroke="#000" stroke-width="1.2"/>
<text transform="translate(46.3,142.45) scale(0.97,1)" font-size="14.6" text-anchor="end" fill="#000">210</text>
<line x1="50.6" y1="154.6" x2="58" y2="154.6" stroke="#000" stroke-width="1.2"/>
<line x1="415.9" y1="154.6" x2="423.3" y2="154.6" stroke="#000" stroke-width="1.2"/>
<text transform="translate(46.3,159.75) scale(0.97,1)" font-size="14.6" text-anchor="end" fill="#000">200</text>
<line x1="50.6" y1="171.9" x2="58" y2="171.9" stroke="#000" stroke-width="1.2"/>
<line x1="415.9" y1="171.9" x2="423.3" y2="171.9" stroke="#000" stroke-width="1.2"/>
<text transform="translate(46.3,177.05) scale(0.97,1)" font-size="14.6" text-anchor="end" fill="#000">190</text>
<line x1="50.6" y1="189.2" x2="58" y2="189.2" stroke="#000" stroke-width="1.2"/>
<line x1="415.9" y1="189.2" x2="423.3" y2="189.2" stroke="#000" stroke-width="1.2"/>
<text transform="translate(46.3,194.35) scale(0.97,1)" font-size="14.6" text-anchor="end" fill="#000">180</text>
<line x1="50.6" y1="206.5" x2="58" y2="206.5" stroke="#000" stroke-width="1.2"/>
<line x1="415.9" y1="206.5" x2="423.3" y2="206.5" stroke="#000" stroke-width="1.2"/>
<text transform="translate(46.3,211.65) scale(0.97,1)" font-size="14.6" text-anchor="end" fill="#000">170</text>
<text x="237.35" y="9.05" font-size="12.2" text-anchor="middle" fill="#000">NPM1G+27.0587</text>
<text transform="translate(237,248.65) scale(0.98,1)" font-size="14.7" text-anchor="middle" fill="#000">HJD − 2450000</text>
<text transform="translate(77.4,56) scale(0.97,1)" font-size="14.7" text-anchor="start" fill="#000">V</text>
<text x="72.6" y="142.6" font-size="14">H<tspan font-family="Liberation Serif, serif" font-size="14.5">β</tspan></text>
<text transform="translate(15.4,64.5) rotate(-90)" font-size="14" text-anchor="middle">f<tspan font-size="9.5" dy="3.2" font-family="Liberation Serif, serif">λ</tspan></text>
<text transform="translate(11.4,164.6) rotate(-90)" font-size="14" text-anchor="middle">f<tspan font-size="9.5" dy="3.2">line</tspan></text>
<text transform="translate(407.9,33.45) scale(0.94,1)" font-size="10.2" text-anchor="end" fill="#ff00ff" style="text-rendering:geometricPrecision">KAIT</text>
<text transform="translate(407.9,43.17) scale(0.94,1)" font-size="10.2" text-anchor="end" fill="#ff0000" style="text-rendering:geometricPrecision">LCOGT−1m</text>
<text transform="translate(407.9,52.89) scale(0.94,1)" font-size="10.2" text-anchor="end" fill="#ffa500" style="text-rendering:geometricPrecision">LCOGT−2m</text>
<text transform="translate(407.9,62.61) scale(0.94,1)" font-size="10.2" text-anchor="end" fill="#228b22" style="text-rendering:geometricPrecision">MLO</text>
<text transform="translate(407.9,72.33) scale(0.94,1)" font-size="10.2" text-anchor="end" fill="#46168f" style="text-rendering:geometricPrecision">WMO</text>
<text transform="translate(407.9,82.05) scale(0.94,1)" font-size="10.2" text-anchor="end" fill="#a020f0" style="text-rendering:geometricPrecision">Whip</text>
<line x1="139.1" y1="166.9" x2="139.1" y2="183.6" stroke="#6c7f94" stroke-width="1.6"/>
<line x1="148.9" y1="186.3" x2="148.9" y2="201.7" stroke="#6c7f94" stroke-width="1.6"/>
<line x1="153.8" y1="192.2" x2="153.8" y2="207" stroke="#6c7f94" stroke-width="1.6"/>
<line x1="155.5" y1="188" x2="155.5" y2="201.6" stroke="#6c7f94" stroke-width="1.6"/>
<line x1="162.7" y1="179.1" x2="162.7" y2="194.5" stroke="#6c7f94" stroke-width="1.6"/>
<line x1="166.7" y1="179" x2="166.7" y2="194.6" stroke="#6c7f94" stroke-width="1.6"/>
<line x1="168.6" y1="171.9" x2="168.6" y2="187.2" stroke="#6c7f94" stroke-width="1.6"/>
<line x1="171.9" y1="162.6" x2="171.9" y2="179.6" stroke="#6c7f94" stroke-width="1.6"/>
<line x1="172.9" y1="182.4" x2="172.9" y2="198.4" stroke="#6c7f94" stroke-width="1.6"/>
<line x1="174.6" y1="170.9" x2="174.6" y2="186.9" stroke="#6c7f94" stroke-width="1.6"/>
<line x1="179.2" y1="159.4" x2="179.2" y2="175.4" stroke="#6c7f94" stroke-width="1.6"/>
<line x1="181.1" y1="164.3" x2="181.1" y2="180" stroke="#6c7f94" stroke-width="1.6"/>
<line x1="187" y1="163.6" x2="187" y2="179.7" stroke="#6c7f94" stroke-width="1.6"/>
<line x1="188.4" y1="160.4" x2="188.4" y2="176.7" stroke="#6c7f94" stroke-width="1.6"/>
<line x1="189.7" y1="159.4" x2="189.7" y2="175.4" stroke="#6c7f94" stroke-width="1.6"/>
<line x1="198.5" y1="160" x2="198.5" y2="176.1" stroke="#6c7f94" stroke-width="1.6"/>
<line x1="206.8" y1="160" x2="206.8" y2="176.1" stroke="#6c7f94" stroke-width="1.6"/>
<line x1="217.9" y1="165" x2="217.9" y2="180.6" stroke="#6c7f94" stroke-width="1.6"/>
<line x1="220.6" y1="166.9" x2="220.6" y2="183" stroke="#6c7f94" stroke-width="1.6"/>
<line x1="223.5" y1="160" x2="223.5" y2="176.1" stroke="#6c7f94" stroke-width="1.6"/>
<line x1="233.4" y1="133.4" x2="233.4" y2="151.1" stroke="#6c7f94" stroke-width="1.6"/>
<line x1="241.6" y1="134.7" x2="241.6" y2="151.7" stroke="#6c7f94" stroke-width="1.6"/>
<line x1="242.6" y1="136.4" x2="242.6" y2="153.4" stroke="#6c7f94" stroke-width="1.6"/>
<line x1="245.5" y1="154.4" x2="245.5" y2="170.8" stroke="#6c7f94" stroke-width="1.6"/>
<line x1="249.1" y1="147.2" x2="249.1" y2="164.2" stroke="#6c7f94" stroke-width="1.6"/>
<line x1="251.1" y1="147.9" x2="251.1" y2="164.9" stroke="#6c7f94" stroke-width="1.6"/>
<line x1="260" y1="123.9" x2="260" y2="141.9" stroke="#6c7f94" stroke-width="1.6"/>
<line x1="269.9" y1="136.7" x2="269.9" y2="154.4" stroke="#6c7f94" stroke-width="1.6"/>
<line x1="273.1" y1="139.6" x2="273.1" y2="157.3" stroke="#6c7f94" stroke-width="1.6"/>
<line x1="281" y1="134.7" x2="281" y2="152.4" stroke="#6c7f94" stroke-width="1.6"/>
<line x1="291.9" y1="139.6" x2="291.9" y2="157.3" stroke="#6c7f94" stroke-width="1.6"/>
<line x1="293.5" y1="145.2" x2="293.5" y2="162.6" stroke="#6c7f94" stroke-width="1.6"/>
<line x1="303.4" y1="139.3" x2="303.4" y2="156.7" stroke="#6c7f94" stroke-width="1.6"/>
<line x1="307" y1="138" x2="307" y2="155" stroke="#6c7f94" stroke-width="1.6"/>
<line x1="310.6" y1="133.4" x2="310.6" y2="151.1" stroke="#6c7f94" stroke-width="1.6"/>
<line x1="317.5" y1="155.7" x2="317.5" y2="172.1" stroke="#6c7f94" stroke-width="1.6"/>
<line x1="328" y1="138.3" x2="328" y2="156" stroke="#6c7f94" stroke-width="1.6"/>
<line x1="331" y1="162" x2="331" y2="178.7" stroke="#6c7f94" stroke-width="1.6"/>
</g>
<clipPath id="c75"><rect x="487.7" y="75.6" width="205.6" height="143.85"/></clipPath>
<path d="M505.3 219.45 L505.3 217.45 L508 217.45 L508 215.99 L510.07 215.99 L510.07 217.45 L514.22 217.45 L514.22 219.1 L516.3 219.1 L516.3 214.75 L519.82 214.75 L519.82 209.56 L523.14 209.56 L523.14 201.47 L525.63 201.47 L525.63 189.45 L528.12 189.45 L528.12 181.56 L529.78 181.56 L529.78 144.44 L531.85 144.44 L531.85 144.85 L533.51 144.85 L533.51 149.62 L535.17 149.62 L535.17 130.96 L537.04 130.96 L537.04 120.59 L538.9 120.59 L538.9 94.04 L540.77 94.04 L540.77 82.21 L543.26 82.21 L543.26 108.97 L544.92 108.97 L544.92 162.07 L546.79 162.07 L546.79 163.52 L548.44 163.52 L548.44 178.66 L550.52 178.66 L550.52 191.52 L552.18 191.52 L552.18 184.88 L554.25 184.88 L554.25 206.04 L555.91 206.04 L555.91 208.11 L557.78 208.11 L557.78 205.62 L559.64 205.62 L559.64 199.4 L561.51 199.4 L561.51 206.04 L563.38 206.04 L563.38 210.19 L567.11 210.19 L567.11 211.85 L570.84 211.85 L570.84 209.15 L572.71 209.15 L572.71 212.67 L574.58 212.67 L574.58 206.66 L576.24 206.66 L576.24 217.45 L577.48 217.45 L577.48 214.75 L580.59 214.75 L580.59 217.45 L583.7 217.45 L583.7 219.45 Z" fill="#eee789" stroke="#cbbd4c" stroke-width="0.9" stroke-linejoin="miter" clip-path="url(#c75)"/>
<line x1="540.77" y1="75.6" x2="540.77" y2="219.45" stroke="#cdd1d6" stroke-width="0.7"/>
<path d="M487.86 134.06 L489.14 134.55 L490.43 135.65 L491.71 135.99 L493 136.24 L494.29 136.57 L495.57 137.14 L496.86 136.97 L498.14 137.79 L499.43 138.3 L500.71 137.68 L502 135.98 L503.29 134.44 L504.57 134.68 L505.86 133.82 L507.14 133.29 L508.3 133.14 L509.46 132.63 L510.61 131.13 L511.77 132.26 L512.93 131.36 L514.21 131.02 L515.5 130.37 L516.79 129.43 L518.07 127.38 L519.36 126.32 L520.64 126.34 L521.93 124.91 L523.21 124.26 L524.5 123.64 L525.79 123.18 L527.07 122.33 L528.36 121.71 L529.71 121.06 L531.06 119.79 L532.6 118.44 L534.14 117.86 L535.69 119.01 L537.23 119.79 L538.39 120.31 L539.54 119.97 L540.7 121.68 L541.86 120.94 L543.14 121.53 L544.43 122.18 L545.71 121.71 L546.87 121.73 L548.03 122.04 L549.19 122.66 L550.34 123.19 L551.5 123.64 L552.66 125.18 L553.81 126.11 L554.97 126.85 L556.13 127.7 L557.29 129.43 L558.44 129.35 L559.6 130.62 L560.76 129.64 L561.91 130.5 L563.07 130.59 L564.17 130.95 L565.28 129.91 L566.38 130.95 L567.48 131.81 L568.58 129.93 L569.68 131.05 L570.79 131.36 L571.94 132.06 L573.1 132.41 L574.26 133.97 L575.41 134.41 L576.57 135.21 L577.73 135.88 L578.89 138.8 L580.04 140.24 L581.2 141.95 L582.36 142.93 L583.51 145.34 L584.67 146.23 L585.83 147.63 L586.99 148.32 L588.14 150.64 L589.3 152.55 L590.46 153.36 L591.61 155 L592.77 156.06 L593.93 158.36 L595.09 158.78 L596.24 160.04 L597.4 162.14 L598.56 161.15 L599.71 163.37 L600.87 163.27 L602.03 165.06 L603.19 166.55 L604.34 166.8 L605.5 167.23 L606.66 166.63 L607.81 166.8 L608.97 169.06 L610.13 168.95 L611.29 169.93 L612.57 169.9 L613.86 171.8 L615.14 171.86 L616.3 171.26 L617.46 169.44 L618.61 168.24 L619.77 166.84 L621.02 167.68 L622.28 168.96 L623.53 168.95 L624.79 169.16 L625.94 170.16 L627.1 170.87 L628.26 170.3 L629.41 172.7 L630.57 172.63 L631.73 174.2 L632.89 174.95 L634.04 174.45 L635.2 176.26 L636.36 177.64 L637.64 179.82 L638.93 179.9 L640.21 182.66 L641.5 181.52 L642.79 181.21 L644.07 179.57 L645.36 180.33 L646.64 183.62 L647.93 184.2 L649.21 186.2 L650.5 187.45 L651.79 189.21 L653.07 191.08 L654.36 192.95 L655.64 194.23 L656.93 194.81 L658.21 195.94 L659.5 195.77 L660.79 196.4 L662.07 197.58 L663.36 198.86 L664.64 201.02 L665.93 201.96 L667.21 203.49 L668.5 203.99 L669.79 206.11 L671.07 206.57 L672.36 206.55 L673.64 204.5 L674.93 203.87 L676.21 203.69 L677.5 205.08 L678.79 205.8 L680.07 204.68 L681.36 203.56 L682.64 202.71 L683.93 204.2 L685.21 203.38 L686.5 204.64 L687.85 204.05 L689.2 201.94 L690.36 204.46 L691.51 208.5 L693.44 219.3" fill="none" stroke="#64798f" stroke-width="1.15" stroke-linejoin="round" clip-path="url(#c75)"/>
<rect x="487.7" y="75.6" width="205.6" height="143.85" fill="none" stroke="#000" stroke-width="1.1"/>
<line x1="487.7" y1="82.4" x2="491.9" y2="82.4" stroke="#000" stroke-width="1"/>
<line x1="689.1" y1="82.4" x2="693.3" y2="82.4" stroke="#000" stroke-width="1"/>
<text transform="translate(483.7,86.95) scale(0.97,1)" font-size="13.4" text-anchor="end" fill="#000">1.00</text>
<line x1="487.7" y1="109.8" x2="491.9" y2="109.8" stroke="#000" stroke-width="1"/>
<line x1="689.1" y1="109.8" x2="693.3" y2="109.8" stroke="#000" stroke-width="1"/>
<text transform="translate(483.7,114.35) scale(0.97,1)" font-size="13.4" text-anchor="end" fill="#000">0.80</text>
<line x1="487.7" y1="137.2" x2="491.9" y2="137.2" stroke="#000" stroke-width="1"/>
<line x1="689.1" y1="137.2" x2="693.3" y2="137.2" stroke="#000" stroke-width="1"/>
<text transform="translate(483.7,141.75) scale(0.97,1)" font-size="13.4" text-anchor="end" fill="#000">0.60</text>
<line x1="487.7" y1="164.6" x2="491.9" y2="164.6" stroke="#000" stroke-width="1"/>
<line x1="689.1" y1="164.6" x2="693.3" y2="164.6" stroke="#000" stroke-width="1"/>
<text transform="translate(483.7,169.15) scale(0.97,1)" font-size="13.4" text-anchor="end" fill="#000">0.40</text>
<line x1="487.7" y1="192" x2="491.9" y2="192" stroke="#000" stroke-width="1"/>
<line x1="689.1" y1="192" x2="693.3" y2="192" stroke="#000" stroke-width="1"/>
<text transform="translate(483.7,196.55) scale(0.97,1)" font-size="13.4" text-anchor="end" fill="#000">0.20</text>
<text transform="translate(483.7,218.85) scale(0.97,1)" font-size="13.4" text-anchor="end" fill="#000">0.00</text>
<line x1="487.7" y1="219.45" x2="487.7" y2="223.05" stroke="#000" stroke-width="1"/>
<line x1="487.7" y1="75.6" x2="487.7" y2="79.2" stroke="#000" stroke-width="1"/>
<text transform="translate(487.3,239.65) scale(0.98,1)" font-size="13.3" text-anchor="middle" fill="#000">–20</text>
<line x1="525.08" y1="219.45" x2="525.08" y2="223.05" stroke="#000" stroke-width="1"/>
<line x1="525.08" y1="75.6" x2="525.08" y2="79.2" stroke="#000" stroke-width="1"/>
<text transform="translate(525.08,239.65) scale(0.98,1)" font-size="13.3" text-anchor="middle" fill="#000">0</text>
<line x1="562.46" y1="219.45" x2="562.46" y2="223.05" stroke="#000" stroke-width="1"/>
<line x1="562.46" y1="75.6" x2="562.46" y2="79.2" stroke="#000" stroke-width="1"/>
<text transform="translate(562.46,239.65) scale(0.98,1)" font-size="13.3" text-anchor="middle" fill="#000">20</text>
<line x1="599.85" y1="219.45" x2="599.85" y2="223.05" stroke="#000" stroke-width="1"/>
<line x1="599.85" y1="75.6" x2="599.85" y2="79.2" stroke="#000" stroke-width="1"/>
<text transform="translate(599.85,239.65) scale(0.98,1)" font-size="13.3" text-anchor="middle" fill="#000">40</text>
<line x1="637.23" y1="219.45" x2="637.23" y2="223.05" stroke="#000" stroke-width="1"/>
<line x1="637.23" y1="75.6" x2="637.23" y2="79.2" stroke="#000" stroke-width="1"/>
<text transform="translate(637.23,239.65) scale(0.98,1)" font-size="13.3" text-anchor="middle" fill="#000">60</text>
<line x1="674.61" y1="219.45" x2="674.61" y2="223.05" stroke="#000" stroke-width="1"/>
<line x1="674.61" y1="75.6" x2="674.61" y2="79.2" stroke="#000" stroke-width="1"/>
<text transform="translate(674.61,239.65) scale(0.98,1)" font-size="13.3" text-anchor="middle" fill="#000">80</text>
<text x="590.3" y="254.25" font-size="13.2" text-anchor="middle" fill="#000">Lag (days)</text>
<text transform="translate(448.1,147.82) rotate(-90) scale(0.945,1)" font-size="14.1" text-anchor="middle">CCF / CCCD</text>
<g>
<line x1="69" y1="351.4" x2="69" y2="353.4" stroke="#ff0000" stroke-width="1.55"/>
<line x1="75.4" y1="341.6" x2="75.4" y2="343.6" stroke="#ff0000" stroke-width="1.55"/>
<line x1="86.6" y1="332" x2="86.6" y2="338" stroke="#a020f0" stroke-width="1.55"/>
<line x1="87.4" y1="331" x2="87.4" y2="333" stroke="#ff0000" stroke-width="1.55"/>
<line x1="89.4" y1="327" x2="89.4" y2="329" stroke="#ffa500" stroke-width="1.55"/>
<line x1="91.6" y1="325.2" x2="91.6" y2="327.6" stroke="#ffa500" stroke-width="1.55"/>
<line x1="93" y1="330.6" x2="93" y2="332.6" stroke="#ffa500" stroke-width="1.55"/>
<line x1="95" y1="332" x2="95" y2="334" stroke="#ffa500" stroke-width="1.55"/>
<line x1="97" y1="333.8" x2="97" y2="336.2" stroke="#ffa500" stroke-width="1.55"/>
<line x1="98" y1="335.8" x2="98" y2="338.2" stroke="#ffa500" stroke-width="1.55"/>
<line x1="94" y1="334" x2="94" y2="340" stroke="#a020f0" stroke-width="1.55"/>
<line x1="102.4" y1="338" x2="102.4" y2="344" stroke="#a020f0" stroke-width="1.55"/>
<line x1="103.6" y1="344" x2="103.6" y2="346" stroke="#ff0000" stroke-width="1.55"/>
<line x1="105" y1="334.1" x2="105" y2="341.1" stroke="#a020f0" stroke-width="1.55"/>
<line x1="106.6" y1="336" x2="106.6" y2="342" stroke="#a020f0" stroke-width="1.55"/>
<line x1="108" y1="339.8" x2="108" y2="342.2" stroke="#ffa500" stroke-width="1.55"/>
<line x1="101.5" y1="343" x2="101.5" y2="345" stroke="#ff0000" stroke-width="1.55"/>
<line x1="112.4" y1="339" x2="112.4" y2="341" stroke="#ff0000" stroke-width="1.55"/>
<line x1="114.4" y1="342.5" x2="114.4" y2="347.5" stroke="#a020f0" stroke-width="1.55"/>
<line x1="119.6" y1="351.6" x2="119.6" y2="353.6" stroke="#ff0000" stroke-width="1.55"/>
<line x1="121.4" y1="344" x2="121.4" y2="350" stroke="#a020f0" stroke-width="1.55"/>
<line x1="123" y1="346" x2="123" y2="354" stroke="#a020f0" stroke-width="1.55"/>
<line x1="124.4" y1="347" x2="124.4" y2="355" stroke="#a020f0" stroke-width="1.55"/>
<line x1="126" y1="347.6" x2="126" y2="355.6" stroke="#a020f0" stroke-width="1.55"/>
<line x1="128.6" y1="354.2" x2="128.6" y2="356.6" stroke="#ffa500" stroke-width="1.55"/>
<line x1="124" y1="353.6" x2="124" y2="355.6" stroke="#ffa500" stroke-width="1.55"/>
<line x1="129.5" y1="363" x2="129.5" y2="365" stroke="#ff0000" stroke-width="1.55"/>
<line x1="130.8" y1="365.8" x2="130.8" y2="368.2" stroke="#46168f" stroke-width="1.55"/>
<line x1="137" y1="367" x2="137" y2="369" stroke="#ff0000" stroke-width="1.55"/>
<line x1="145.2" y1="340" x2="145.2" y2="345" stroke="#ff0000" stroke-width="1.55"/>
<line x1="130.6" y1="359" x2="130.6" y2="367" stroke="#a020f0" stroke-width="1.55"/>
<line x1="134.4" y1="371" x2="134.4" y2="375" stroke="#46168f" stroke-width="1.55"/>
<line x1="136" y1="360" x2="136" y2="370" stroke="#a020f0" stroke-width="1.55"/>
<line x1="137.2" y1="364.4" x2="137.2" y2="368.8" stroke="#46168f" stroke-width="1.55"/>
<line x1="135.2" y1="368" x2="135.2" y2="372" stroke="#46168f" stroke-width="1.55"/>
<line x1="139" y1="352.6" x2="139" y2="358.6" stroke="#a020f0" stroke-width="1.55"/>
<line x1="139.4" y1="358.6" x2="139.4" y2="364.6" stroke="#ff0000" stroke-width="1.55"/>
<line x1="141.4" y1="352.8" x2="141.4" y2="355.2" stroke="#ffa500" stroke-width="1.55"/>
<line x1="140.4" y1="355.8" x2="140.4" y2="358.2" stroke="#ff0000" stroke-width="1.55"/>
<line x1="145.6" y1="340" x2="145.6" y2="346" stroke="#a020f0" stroke-width="1.55"/>
<line x1="147.4" y1="340.6" x2="147.4" y2="346.6" stroke="#a020f0" stroke-width="1.55"/>
<line x1="149" y1="341" x2="149" y2="347" stroke="#a020f0" stroke-width="1.55"/>
<line x1="146.5" y1="342" x2="146.5" y2="346" stroke="#46168f" stroke-width="1.55"/>
<line x1="150.6" y1="339" x2="150.6" y2="347" stroke="#ffa500" stroke-width="1.55"/>
<line x1="150.9" y1="344" x2="150.9" y2="347" stroke="#ff0000" stroke-width="1.55"/>
<line x1="152" y1="334" x2="152" y2="336" stroke="#ff0000" stroke-width="1.55"/>
<line x1="154" y1="315" x2="154" y2="325" stroke="#ff0000" stroke-width="1.55"/>
<line x1="154.9" y1="321" x2="154.9" y2="327" stroke="#ff0000" stroke-width="1.55"/>
<line x1="156" y1="322.8" x2="156" y2="325.2" stroke="#ff0000" stroke-width="1.55"/>
<line x1="157.5" y1="322" x2="157.5" y2="324" stroke="#ffa500" stroke-width="1.55"/>
<line x1="159" y1="325.8" x2="159" y2="328.2" stroke="#ffa500" stroke-width="1.55"/>
<line x1="159.6" y1="322.5" x2="159.6" y2="325.5" stroke="#a020f0" stroke-width="1.55"/>
<line x1="161" y1="328.8" x2="161" y2="331.2" stroke="#ffa500" stroke-width="1.55"/>
<line x1="164.4" y1="329" x2="164.4" y2="337" stroke="#a020f0" stroke-width="1.55"/>
<line x1="166" y1="327.5" x2="166" y2="334.5" stroke="#a020f0" stroke-width="1.55"/>
<line x1="164" y1="332.5" x2="164" y2="337.5" stroke="#ff0000" stroke-width="1.55"/>
<line x1="167.5" y1="332" x2="167.5" y2="336" stroke="#46168f" stroke-width="1.55"/>
<line x1="169" y1="332" x2="169" y2="335" stroke="#ff0000" stroke-width="1.55"/>
<line x1="170.6" y1="328" x2="170.6" y2="336" stroke="#a020f0" stroke-width="1.55"/>
<line x1="172.4" y1="326" x2="172.4" y2="334" stroke="#a020f0" stroke-width="1.55"/>
<line x1="171.5" y1="331" x2="171.5" y2="335" stroke="#46168f" stroke-width="1.55"/>
<line x1="174" y1="326" x2="174" y2="332" stroke="#a020f0" stroke-width="1.55"/>
<line x1="175.6" y1="323" x2="175.6" y2="331" stroke="#a020f0" stroke-width="1.55"/>
<line x1="176.2" y1="325" x2="176.2" y2="330" stroke="#228b22" stroke-width="1.55"/>
<line x1="177" y1="325.5" x2="177" y2="330.5" stroke="#ffa500" stroke-width="1.55"/>
<line x1="178.4" y1="330" x2="178.4" y2="338" stroke="#ff0000" stroke-width="1.55"/>
<line x1="179.2" y1="335" x2="179.2" y2="339" stroke="#ff0000" stroke-width="1.55"/>
<line x1="180" y1="337.5" x2="180" y2="340.5" stroke="#ffa500" stroke-width="1.55"/>
<line x1="181.6" y1="340.5" x2="181.6" y2="343.5" stroke="#ffa500" stroke-width="1.55"/>
<line x1="183" y1="344.5" x2="183" y2="347.5" stroke="#ffa500" stroke-width="1.55"/>
<line x1="183.5" y1="337" x2="183.5" y2="343" stroke="#a020f0" stroke-width="1.55"/>
<line x1="183.5" y1="345.3" x2="183.5" y2="347.7" stroke="#ffa500" stroke-width="1.55"/>
<line x1="184.5" y1="344" x2="184.5" y2="346" stroke="#ffa500" stroke-width="1.55"/>
<line x1="186" y1="343" x2="186" y2="346" stroke="#46168f" stroke-width="1.55"/>
<line x1="186.8" y1="341.5" x2="186.8" y2="344.5" stroke="#228b22" stroke-width="1.55"/>
<line x1="187.8" y1="336" x2="187.8" y2="341" stroke="#ff0000" stroke-width="1.55"/>
<line x1="188.2" y1="340" x2="188.2" y2="343" stroke="#46168f" stroke-width="1.55"/>
<line x1="188.8" y1="338.3" x2="188.8" y2="340.7" stroke="#ffa500" stroke-width="1.55"/>
<line x1="189.8" y1="343.5" x2="189.8" y2="346.5" stroke="#ffa500" stroke-width="1.55"/>
<line x1="189.2" y1="341" x2="189.2" y2="344" stroke="#ff0000" stroke-width="1.55"/>
<line x1="190.5" y1="333.3" x2="190.5" y2="337.7" stroke="#ff0000" stroke-width="1.55"/>
<line x1="191" y1="338" x2="191" y2="341" stroke="#ffa500" stroke-width="1.55"/>
<line x1="191.8" y1="336.5" x2="191.8" y2="339.5" stroke="#ff0000" stroke-width="1.55"/>
<line x1="192.5" y1="335" x2="192.5" y2="338" stroke="#228b22" stroke-width="1.55"/>
<line x1="193.8" y1="331" x2="193.8" y2="335" stroke="#ff0000" stroke-width="1.55"/>
<line x1="194.2" y1="334.5" x2="194.2" y2="336.5" stroke="#ffa500" stroke-width="1.55"/>
<line x1="195" y1="335.3" x2="195" y2="337.7" stroke="#ff0000" stroke-width="1.55"/>
<line x1="196" y1="333.3" x2="196" y2="335.7" stroke="#ffa500" stroke-width="1.55"/>
<line x1="197" y1="332.5" x2="197" y2="334.5" stroke="#ffa500" stroke-width="1.55"/>
<line x1="198" y1="332.2" x2="198" y2="334.2" stroke="#46168f" stroke-width="1.55"/>
<line x1="198.5" y1="329.5" x2="198.5" y2="331.5" stroke="#ffa500" stroke-width="1.55"/>
<line x1="199.8" y1="331.5" x2="199.8" y2="335.5" stroke="#228b22" stroke-width="1.55"/>
<line x1="200.2" y1="322" x2="200.2" y2="326" stroke="#ff0000" stroke-width="1.55"/>
<line x1="200" y1="326.5" x2="200" y2="328.5" stroke="#ffa500" stroke-width="1.55"/>
<line x1="201.3" y1="327.8" x2="201.3" y2="330.2" stroke="#46168f" stroke-width="1.55"/>
<line x1="202.5" y1="326.2" x2="202.5" y2="328.2" stroke="#ffa500" stroke-width="1.55"/>
<line x1="204.2" y1="328.5" x2="204.2" y2="331.5" stroke="#ffa500" stroke-width="1.55"/>
<line x1="205.2" y1="318.3" x2="205.2" y2="323.3" stroke="#ff0000" stroke-width="1.55"/>
<line x1="206.5" y1="320" x2="206.5" y2="325" stroke="#228b22" stroke-width="1.55"/>
<line x1="207" y1="321.5" x2="207" y2="326.5" stroke="#ffa500" stroke-width="1.55"/>
<line x1="208" y1="317.5" x2="208" y2="319.5" stroke="#ffa500" stroke-width="1.55"/>
<line x1="208.8" y1="319.5" x2="208.8" y2="322.5" stroke="#ffa500" stroke-width="1.55"/>
<line x1="209.5" y1="316" x2="209.5" y2="318" stroke="#ffa500" stroke-width="1.55"/>
<line x1="210.5" y1="315" x2="210.5" y2="317" stroke="#ffa500" stroke-width="1.55"/>
<line x1="211.5" y1="314" x2="211.5" y2="316" stroke="#ffa500" stroke-width="1.55"/>
<line x1="212.7" y1="312" x2="212.7" y2="315" stroke="#228b22" stroke-width="1.55"/>
<line x1="213" y1="314" x2="213" y2="317" stroke="#46168f" stroke-width="1.55"/>
<line x1="213.5" y1="317.5" x2="213.5" y2="320.5" stroke="#ff0000" stroke-width="1.55"/>
<line x1="214.5" y1="308.5" x2="214.5" y2="311.5" stroke="#ff0000" stroke-width="1.55"/>
<line x1="215.2" y1="315" x2="215.2" y2="319" stroke="#ff0000" stroke-width="1.55"/>
<line x1="216.2" y1="313.5" x2="216.2" y2="317.5" stroke="#ff0000" stroke-width="1.55"/>
<line x1="217" y1="316.5" x2="217" y2="319.5" stroke="#ff0000" stroke-width="1.55"/>
<line x1="218" y1="320" x2="218" y2="323" stroke="#ff0000" stroke-width="1.55"/>
<line x1="218.3" y1="313" x2="218.3" y2="317" stroke="#228b22" stroke-width="1.55"/>
<line x1="219.2" y1="314.5" x2="219.2" y2="318.5" stroke="#32cd32" stroke-width="1.55"/>
<line x1="219.8" y1="317" x2="219.8" y2="321" stroke="#228b22" stroke-width="1.55"/>
<line x1="221" y1="315" x2="221" y2="321" stroke="#a020f0" stroke-width="1.55"/>
<line x1="220.3" y1="322.8" x2="220.3" y2="328.8" stroke="#a020f0" stroke-width="1.55"/>
<line x1="222" y1="321.7" x2="222" y2="324.7" stroke="#ff0000" stroke-width="1.55"/>
<line x1="223" y1="322.5" x2="223" y2="325.5" stroke="#ff0000" stroke-width="1.55"/>
<line x1="224.5" y1="319.5" x2="224.5" y2="322.5" stroke="#32cd32" stroke-width="1.55"/>
<line x1="224" y1="324.5" x2="224" y2="328.5" stroke="#228b22" stroke-width="1.55"/>
<line x1="225.2" y1="326" x2="225.2" y2="329" stroke="#46168f" stroke-width="1.55"/>
<line x1="226" y1="327.5" x2="226" y2="330.5" stroke="#ff0000" stroke-width="1.55"/>
<line x1="227.3" y1="323" x2="227.3" y2="326" stroke="#32cd32" stroke-width="1.55"/>
<line x1="227" y1="327" x2="227" y2="331" stroke="#46168f" stroke-width="1.55"/>
<line x1="227" y1="330" x2="227" y2="332" stroke="#ff0000" stroke-width="1.55"/>
<line x1="227.8" y1="333" x2="227.8" y2="339" stroke="#a020f0" stroke-width="1.55"/>
<line x1="228.8" y1="329.8" x2="228.8" y2="332.2" stroke="#ffa500" stroke-width="1.55"/>
<line x1="229.2" y1="332" x2="229.2" y2="335" stroke="#ff0000" stroke-width="1.55"/>
<line x1="229.2" y1="337.2" x2="229.2" y2="340.8" stroke="#ff0000" stroke-width="1.55"/>
<line x1="231" y1="327.8" x2="231" y2="331.8" stroke="#32cd32" stroke-width="1.55"/>
<line x1="232.2" y1="334.5" x2="232.2" y2="339.5" stroke="#228b22" stroke-width="1.55"/>
<line x1="233.7" y1="329.5" x2="233.7" y2="333.5" stroke="#32cd32" stroke-width="1.55"/>
<line x1="234" y1="336" x2="234" y2="341" stroke="#228b22" stroke-width="1.55"/>
<line x1="234.5" y1="338" x2="234.5" y2="342" stroke="#46168f" stroke-width="1.55"/>
<line x1="235.5" y1="335" x2="235.5" y2="340" stroke="#a020f0" stroke-width="1.55"/>
<line x1="236" y1="333" x2="236" y2="335.4" stroke="#ffa500" stroke-width="1.55"/>
<line x1="236.7" y1="328" x2="236.7" y2="331.6" stroke="#32cd32" stroke-width="1.55"/>
<line x1="237" y1="339" x2="237" y2="344" stroke="#ff00ff" stroke-width="1.55"/>
<line x1="237.8" y1="332.5" x2="237.8" y2="334.5" stroke="#ffa500" stroke-width="1.55"/>
<line x1="238.5" y1="331.5" x2="238.5" y2="333.5" stroke="#ffa500" stroke-width="1.55"/>
<line x1="240" y1="328" x2="240" y2="330" stroke="#ffa500" stroke-width="1.55"/>
<line x1="240.5" y1="329" x2="240.5" y2="334" stroke="#ff00ff" stroke-width="1.55"/>
<line x1="241.3" y1="325" x2="241.3" y2="330" stroke="#a020f0" stroke-width="1.55"/>
<line x1="242.5" y1="325.5" x2="242.5" y2="328.5" stroke="#46168f" stroke-width="1.55"/>
<line x1="243" y1="325.8" x2="243" y2="327.8" stroke="#ffa500" stroke-width="1.55"/>
<line x1="244" y1="328.5" x2="244" y2="331.5" stroke="#ff00ff" stroke-width="1.55"/>
<line x1="245" y1="326.8" x2="245" y2="329.2" stroke="#ffa500" stroke-width="1.55"/>
<line x1="245.8" y1="328" x2="245.8" y2="332" stroke="#ff0000" stroke-width="1.55"/>
<line x1="246.2" y1="332.5" x2="246.2" y2="335.5" stroke="#ff00ff" stroke-width="1.55"/>
<line x1="247" y1="334.4" x2="247" y2="338" stroke="#ff00ff" stroke-width="1.55"/>
<line x1="248" y1="333.5" x2="248" y2="335.5" stroke="#ffa500" stroke-width="1.55"/>
<line x1="248.5" y1="339" x2="248.5" y2="342" stroke="#ff0000" stroke-width="1.55"/>
<line x1="249.5" y1="335.5" x2="249.5" y2="337.5" stroke="#ffa500" stroke-width="1.55"/>
<line x1="250" y1="336.5" x2="250" y2="341.5" stroke="#228b22" stroke-width="1.55"/>
<line x1="251" y1="336.5" x2="251" y2="338.5" stroke="#ffa500" stroke-width="1.55"/>
<line x1="251.5" y1="338.5" x2="251.5" y2="344.5" stroke="#a020f0" stroke-width="1.55"/>
<line x1="252.3" y1="331" x2="252.3" y2="334" stroke="#32cd32" stroke-width="1.55"/>
<line x1="252.7" y1="335.8" x2="252.7" y2="338.2" stroke="#ff0000" stroke-width="1.55"/>
<line x1="250.5" y1="335.5" x2="250.5" y2="337.5" stroke="#ff0000" stroke-width="1.55"/>
<line x1="251.8" y1="335.3" x2="251.8" y2="337.7" stroke="#ffa500" stroke-width="1.55"/>
<line x1="252.5" y1="339.5" x2="252.5" y2="343.5" stroke="#46168f" stroke-width="1.55"/>
<line x1="253" y1="338" x2="253" y2="341" stroke="#ff00ff" stroke-width="1.55"/>
<line x1="254.8" y1="336" x2="254.8" y2="339.6" stroke="#32cd32" stroke-width="1.55"/>
<line x1="254" y1="341" x2="254" y2="346" stroke="#a020f0" stroke-width="1.55"/>
<line x1="254.5" y1="341" x2="254.5" y2="344" stroke="#ff00ff" stroke-width="1.55"/>
<line x1="254.8" y1="347" x2="254.8" y2="349" stroke="#ff0000" stroke-width="1.55"/>
<line x1="255.5" y1="343" x2="255.5" y2="348" stroke="#a020f0" stroke-width="1.55"/>
<line x1="256.2" y1="344.5" x2="256.2" y2="346.5" stroke="#ffa500" stroke-width="1.55"/>
<line x1="256.8" y1="345" x2="256.8" y2="348" stroke="#46168f" stroke-width="1.55"/>
<line x1="257.8" y1="340" x2="257.8" y2="343" stroke="#32cd32" stroke-width="1.55"/>
<line x1="258" y1="347" x2="258" y2="351" stroke="#228b22" stroke-width="1.55"/>
<line x1="258.8" y1="345.5" x2="258.8" y2="349.5" stroke="#ffa500" stroke-width="1.55"/>
<line x1="260.2" y1="342.7" x2="260.2" y2="346.3" stroke="#32cd32" stroke-width="1.55"/>
<line x1="260.5" y1="349" x2="260.5" y2="351" stroke="#ff0000" stroke-width="1.55"/>
<line x1="260" y1="348.5" x2="260" y2="350.5" stroke="#ffa500" stroke-width="1.55"/>
<line x1="263.5" y1="347" x2="263.5" y2="353" stroke="#a020f0" stroke-width="1.55"/>
<line x1="263" y1="354" x2="263" y2="356" stroke="#46168f" stroke-width="1.55"/>
<line x1="264.7" y1="349.5" x2="264.7" y2="353.5" stroke="#46168f" stroke-width="1.55"/>
<line x1="266" y1="347.5" x2="266" y2="353.5" stroke="#a020f0" stroke-width="1.55"/>
<line x1="270.5" y1="338.2" x2="270.5" y2="340.2" stroke="#ffa500" stroke-width="1.55"/>
<line x1="268.8" y1="343.8" x2="268.8" y2="345.6" stroke="#ff0000" stroke-width="1.55"/>
<line x1="270" y1="342.5" x2="270" y2="348.5" stroke="#a020f0" stroke-width="1.55"/>
<line x1="270.5" y1="346.8" x2="270.5" y2="349.2" stroke="#46168f" stroke-width="1.55"/>
<line x1="272.5" y1="347" x2="272.5" y2="349" stroke="#ffa500" stroke-width="1.55"/>
<line x1="273.5" y1="348.2" x2="273.5" y2="350.2" stroke="#ffa500" stroke-width="1.55"/>
<line x1="275" y1="349.5" x2="275" y2="352.5" stroke="#ffa500" stroke-width="1.55"/>
<line x1="273" y1="351.2" x2="273" y2="356.8" stroke="#a020f0" stroke-width="1.55"/>
<line x1="278" y1="353" x2="278" y2="357" stroke="#ffa500" stroke-width="1.55"/>
<line x1="278.2" y1="357" x2="278.2" y2="359" stroke="#ff00ff" stroke-width="1.55"/>
<line x1="277" y1="360" x2="277" y2="362" stroke="#46168f" stroke-width="1.55"/>
<line x1="280" y1="358.5" x2="280" y2="364.5" stroke="#a020f0" stroke-width="1.55"/>
<line x1="278.3" y1="364.3" x2="278.3" y2="366.7" stroke="#46168f" stroke-width="1.55"/>
<line x1="282" y1="369.3" x2="282" y2="371.1" stroke="#ff0000" stroke-width="1.55"/>
<line x1="284" y1="368.8" x2="284" y2="373.2" stroke="#ff00ff" stroke-width="1.55"/>
<line x1="283.3" y1="374" x2="283.3" y2="377" stroke="#46168f" stroke-width="1.55"/>
<line x1="284" y1="376.6" x2="284" y2="379" stroke="#228b22" stroke-width="1.55"/>
<line x1="291" y1="372.5" x2="291" y2="378.5" stroke="#a020f0" stroke-width="1.55"/>
<line x1="288.5" y1="380.8" x2="288.5" y2="385.2" stroke="#ff00ff" stroke-width="1.55"/>
<line x1="289.5" y1="383.5" x2="289.5" y2="387.5" stroke="#ff0000" stroke-width="1.55"/>
<line x1="288.5" y1="386" x2="288.5" y2="388.4" stroke="#46168f" stroke-width="1.55"/>
<line x1="290.5" y1="383.6" x2="290.5" y2="385.4" stroke="#ff0000" stroke-width="1.55"/>
<line x1="292" y1="380.1" x2="292" y2="381.9" stroke="#ff0000" stroke-width="1.55"/>
<line x1="293.7" y1="377.6" x2="293.7" y2="379.4" stroke="#ff0000" stroke-width="1.55"/>
<line x1="295" y1="375.9" x2="295" y2="377.7" stroke="#ff0000" stroke-width="1.55"/>
<line x1="296.3" y1="374.1" x2="296.3" y2="375.9" stroke="#ff0000" stroke-width="1.55"/>
<line x1="297.5" y1="370.9" x2="297.5" y2="372.7" stroke="#ff0000" stroke-width="1.55"/>
<line x1="299.3" y1="365.5" x2="299.3" y2="367.9" stroke="#ff0000" stroke-width="1.55"/>
<line x1="301.3" y1="358.7" x2="301.3" y2="360.7" stroke="#ff0000" stroke-width="1.55"/>
<line x1="302" y1="356" x2="302" y2="359.6" stroke="#ff00ff" stroke-width="1.55"/>
<line x1="304" y1="352.2" x2="304" y2="355.8" stroke="#ff00ff" stroke-width="1.55"/>
<line x1="303" y1="355" x2="303" y2="357" stroke="#ff0000" stroke-width="1.55"/>
<line x1="307.7" y1="349" x2="307.7" y2="351.4" stroke="#ff0000" stroke-width="1.55"/>
<line x1="308.5" y1="351.5" x2="308.5" y2="353.5" stroke="#ff0000" stroke-width="1.55"/>
<line x1="311" y1="352.8" x2="311" y2="354.8" stroke="#ff0000" stroke-width="1.55"/>
<line x1="312.2" y1="352.3" x2="312.2" y2="354.3" stroke="#ff0000" stroke-width="1.55"/>
<line x1="313.5" y1="350.7" x2="313.5" y2="353.7" stroke="#ff0000" stroke-width="1.55"/>
<line x1="314.3" y1="352.3" x2="314.3" y2="354.3" stroke="#ff0000" stroke-width="1.55"/>
<line x1="317" y1="348.7" x2="317" y2="350.7" stroke="#ff0000" stroke-width="1.55"/>
<line x1="318.2" y1="349.5" x2="318.2" y2="351.5" stroke="#ff0000" stroke-width="1.55"/>
<line x1="319" y1="349.5" x2="319" y2="353.5" stroke="#ff00ff" stroke-width="1.55"/>
<line x1="319.7" y1="356" x2="319.7" y2="359" stroke="#ff00ff" stroke-width="1.55"/>
<line x1="323.7" y1="355.2" x2="323.7" y2="357.2" stroke="#ff0000" stroke-width="1.55"/>
<line x1="327" y1="355" x2="327" y2="361" stroke="#ff00ff" stroke-width="1.55"/>
<line x1="59.64" y1="295.6" x2="59.64" y2="296.6" stroke="#000" stroke-width="0.85"/>
<line x1="59.64" y1="394.8" x2="59.64" y2="396.8" stroke="#000" stroke-width="0.85"/>
<line x1="59.64" y1="494.9" x2="59.64" y2="495.9" stroke="#000" stroke-width="0.85"/>
<line x1="68.88" y1="295.6" x2="68.88" y2="296.6" stroke="#000" stroke-width="0.85"/>
<line x1="68.88" y1="394.8" x2="68.88" y2="396.8" stroke="#000" stroke-width="0.85"/>
<line x1="68.88" y1="494.9" x2="68.88" y2="495.9" stroke="#000" stroke-width="0.85"/>
<line x1="78.12" y1="295.6" x2="78.12" y2="296.6" stroke="#000" stroke-width="0.85"/>
<line x1="78.12" y1="394.8" x2="78.12" y2="396.8" stroke="#000" stroke-width="0.85"/>
<line x1="78.12" y1="494.9" x2="78.12" y2="495.9" stroke="#000" stroke-width="0.85"/>
<line x1="87.36" y1="295.6" x2="87.36" y2="296.6" stroke="#000" stroke-width="0.85"/>
<line x1="87.36" y1="394.8" x2="87.36" y2="396.8" stroke="#000" stroke-width="0.85"/>
<line x1="87.36" y1="494.9" x2="87.36" y2="495.9" stroke="#000" stroke-width="0.85"/>
<line x1="96.6" y1="295.6" x2="96.6" y2="297.9" stroke="#000" stroke-width="1.15"/>
<line x1="96.6" y1="393.5" x2="96.6" y2="398.1" stroke="#000" stroke-width="1.15"/>
<line x1="96.6" y1="493.6" x2="96.6" y2="495.9" stroke="#000" stroke-width="1.15"/>
<text transform="translate(96.6,514.3) scale(0.97,1)" font-size="14.6" text-anchor="middle" fill="#000">7500</text>
<line x1="105.84" y1="295.6" x2="105.84" y2="296.6" stroke="#000" stroke-width="0.85"/>
<line x1="105.84" y1="394.8" x2="105.84" y2="396.8" stroke="#000" stroke-width="0.85"/>
<line x1="105.84" y1="494.9" x2="105.84" y2="495.9" stroke="#000" stroke-width="0.85"/>
<line x1="115.08" y1="295.6" x2="115.08" y2="296.6" stroke="#000" stroke-width="0.85"/>
<line x1="115.08" y1="394.8" x2="115.08" y2="396.8" stroke="#000" stroke-width="0.85"/>
<line x1="115.08" y1="494.9" x2="115.08" y2="495.9" stroke="#000" stroke-width="0.85"/>
<line x1="124.32" y1="295.6" x2="124.32" y2="296.6" stroke="#000" stroke-width="0.85"/>
<line x1="124.32" y1="394.8" x2="124.32" y2="396.8" stroke="#000" stroke-width="0.85"/>
<line x1="124.32" y1="494.9" x2="124.32" y2="495.9" stroke="#000" stroke-width="0.85"/>
<line x1="133.56" y1="295.6" x2="133.56" y2="296.6" stroke="#000" stroke-width="0.85"/>
<line x1="133.56" y1="394.8" x2="133.56" y2="396.8" stroke="#000" stroke-width="0.85"/>
<line x1="133.56" y1="494.9" x2="133.56" y2="495.9" stroke="#000" stroke-width="0.85"/>
<line x1="142.8" y1="295.6" x2="142.8" y2="296.6" stroke="#000" stroke-width="0.85"/>
<line x1="142.8" y1="394.8" x2="142.8" y2="396.8" stroke="#000" stroke-width="0.85"/>
<line x1="142.8" y1="494.9" x2="142.8" y2="495.9" stroke="#000" stroke-width="0.85"/>
<line x1="152.04" y1="295.6" x2="152.04" y2="296.6" stroke="#000" stroke-width="0.85"/>
<line x1="152.04" y1="394.8" x2="152.04" y2="396.8" stroke="#000" stroke-width="0.85"/>
<line x1="152.04" y1="494.9" x2="152.04" y2="495.9" stroke="#000" stroke-width="0.85"/>
<line x1="161.28" y1="295.6" x2="161.28" y2="296.6" stroke="#000" stroke-width="0.85"/>
<line x1="161.28" y1="394.8" x2="161.28" y2="396.8" stroke="#000" stroke-width="0.85"/>
<line x1="161.28" y1="494.9" x2="161.28" y2="495.9" stroke="#000" stroke-width="0.85"/>
<line x1="170.52" y1="295.6" x2="170.52" y2="296.6" stroke="#000" stroke-width="0.85"/>
<line x1="170.52" y1="394.8" x2="170.52" y2="396.8" stroke="#000" stroke-width="0.85"/>
<line x1="170.52" y1="494.9" x2="170.52" y2="495.9" stroke="#000" stroke-width="0.85"/>
<line x1="179.76" y1="295.6" x2="179.76" y2="296.6" stroke="#000" stroke-width="0.85"/>
<line x1="179.76" y1="394.8" x2="179.76" y2="396.8" stroke="#000" stroke-width="0.85"/>
<line x1="179.76" y1="494.9" x2="179.76" y2="495.9" stroke="#000" stroke-width="0.85"/>
<line x1="189" y1="295.6" x2="189" y2="297.9" stroke="#000" stroke-width="1.15"/>
<line x1="189" y1="393.5" x2="189" y2="398.1" stroke="#000" stroke-width="1.15"/>
<line x1="189" y1="493.6" x2="189" y2="495.9" stroke="#000" stroke-width="1.15"/>
<text transform="translate(189,514.3) scale(0.97,1)" font-size="14.6" text-anchor="middle" fill="#000">7600</text>
<line x1="198.24" y1="295.6" x2="198.24" y2="296.6" stroke="#000" stroke-width="0.85"/>
<line x1="198.24" y1="394.8" x2="198.24" y2="396.8" stroke="#000" stroke-width="0.85"/>
<line x1="198.24" y1="494.9" x2="198.24" y2="495.9" stroke="#000" stroke-width="0.85"/>
<line x1="207.48" y1="295.6" x2="207.48" y2="296.6" stroke="#000" stroke-width="0.85"/>
<line x1="207.48" y1="394.8" x2="207.48" y2="396.8" stroke="#000" stroke-width="0.85"/>
<line x1="207.48" y1="494.9" x2="207.48" y2="495.9" stroke="#000" stroke-width="0.85"/>
<line x1="216.72" y1="295.6" x2="216.72" y2="296.6" stroke="#000" stroke-width="0.85"/>
<line x1="216.72" y1="394.8" x2="216.72" y2="396.8" stroke="#000" stroke-width="0.85"/>
<line x1="216.72" y1="494.9" x2="216.72" y2="495.9" stroke="#000" stroke-width="0.85"/>
<line x1="225.96" y1="295.6" x2="225.96" y2="296.6" stroke="#000" stroke-width="0.85"/>
<line x1="225.96" y1="394.8" x2="225.96" y2="396.8" stroke="#000" stroke-width="0.85"/>
<line x1="225.96" y1="494.9" x2="225.96" y2="495.9" stroke="#000" stroke-width="0.85"/>
<line x1="235.2" y1="295.6" x2="235.2" y2="296.6" stroke="#000" stroke-width="0.85"/>
<line x1="235.2" y1="394.8" x2="235.2" y2="396.8" stroke="#000" stroke-width="0.85"/>
<line x1="235.2" y1="494.9" x2="235.2" y2="495.9" stroke="#000" stroke-width="0.85"/>
<line x1="244.44" y1="295.6" x2="244.44" y2="296.6" stroke="#000" stroke-width="0.85"/>
<line x1="244.44" y1="394.8" x2="244.44" y2="396.8" stroke="#000" stroke-width="0.85"/>
<line x1="244.44" y1="494.9" x2="244.44" y2="495.9" stroke="#000" stroke-width="0.85"/>
<line x1="253.68" y1="295.6" x2="253.68" y2="296.6" stroke="#000" stroke-width="0.85"/>
<line x1="253.68" y1="394.8" x2="253.68" y2="396.8" stroke="#000" stroke-width="0.85"/>
<line x1="253.68" y1="494.9" x2="253.68" y2="495.9" stroke="#000" stroke-width="0.85"/>
<line x1="262.92" y1="295.6" x2="262.92" y2="296.6" stroke="#000" stroke-width="0.85"/>
<line x1="262.92" y1="394.8" x2="262.92" y2="396.8" stroke="#000" stroke-width="0.85"/>
<line x1="262.92" y1="494.9" x2="262.92" y2="495.9" stroke="#000" stroke-width="0.85"/>
<line x1="272.16" y1="295.6" x2="272.16" y2="296.6" stroke="#000" stroke-width="0.85"/>
<line x1="272.16" y1="394.8" x2="272.16" y2="396.8" stroke="#000" stroke-width="0.85"/>
<line x1="272.16" y1="494.9" x2="272.16" y2="495.9" stroke="#000" stroke-width="0.85"/>
<line x1="281.4" y1="295.6" x2="281.4" y2="297.9" stroke="#000" stroke-width="1.15"/>
<line x1="281.4" y1="393.5" x2="281.4" y2="398.1" stroke="#000" stroke-width="1.15"/>
<line x1="281.4" y1="493.6" x2="281.4" y2="495.9" stroke="#000" stroke-width="1.15"/>
<text transform="translate(281.4,514.3) scale(0.97,1)" font-size="14.6" text-anchor="middle" fill="#000">7700</text>
<line x1="290.64" y1="295.6" x2="290.64" y2="296.6" stroke="#000" stroke-width="0.85"/>
<line x1="290.64" y1="394.8" x2="290.64" y2="396.8" stroke="#000" stroke-width="0.85"/>
<line x1="290.64" y1="494.9" x2="290.64" y2="495.9" stroke="#000" stroke-width="0.85"/>
<line x1="299.88" y1="295.6" x2="299.88" y2="296.6" stroke="#000" stroke-width="0.85"/>
<line x1="299.88" y1="394.8" x2="299.88" y2="396.8" stroke="#000" stroke-width="0.85"/>
<line x1="299.88" y1="494.9" x2="299.88" y2="495.9" stroke="#000" stroke-width="0.85"/>
<line x1="309.12" y1="295.6" x2="309.12" y2="296.6" stroke="#000" stroke-width="0.85"/>
<line x1="309.12" y1="394.8" x2="309.12" y2="396.8" stroke="#000" stroke-width="0.85"/>
<line x1="309.12" y1="494.9" x2="309.12" y2="495.9" stroke="#000" stroke-width="0.85"/>
<line x1="318.36" y1="295.6" x2="318.36" y2="296.6" stroke="#000" stroke-width="0.85"/>
<line x1="318.36" y1="394.8" x2="318.36" y2="396.8" stroke="#000" stroke-width="0.85"/>
<line x1="318.36" y1="494.9" x2="318.36" y2="495.9" stroke="#000" stroke-width="0.85"/>
<line x1="327.6" y1="295.6" x2="327.6" y2="296.6" stroke="#000" stroke-width="0.85"/>
<line x1="327.6" y1="394.8" x2="327.6" y2="396.8" stroke="#000" stroke-width="0.85"/>
<line x1="327.6" y1="494.9" x2="327.6" y2="495.9" stroke="#000" stroke-width="0.85"/>
<line x1="336.84" y1="295.6" x2="336.84" y2="296.6" stroke="#000" stroke-width="0.85"/>
<line x1="336.84" y1="394.8" x2="336.84" y2="396.8" stroke="#000" stroke-width="0.85"/>
<line x1="336.84" y1="494.9" x2="336.84" y2="495.9" stroke="#000" stroke-width="0.85"/>
<line x1="346.08" y1="295.6" x2="346.08" y2="296.6" stroke="#000" stroke-width="0.85"/>
<line x1="346.08" y1="394.8" x2="346.08" y2="396.8" stroke="#000" stroke-width="0.85"/>
<line x1="346.08" y1="494.9" x2="346.08" y2="495.9" stroke="#000" stroke-width="0.85"/>
<line x1="355.32" y1="295.6" x2="355.32" y2="296.6" stroke="#000" stroke-width="0.85"/>
<line x1="355.32" y1="394.8" x2="355.32" y2="396.8" stroke="#000" stroke-width="0.85"/>
<line x1="355.32" y1="494.9" x2="355.32" y2="495.9" stroke="#000" stroke-width="0.85"/>
<line x1="364.56" y1="295.6" x2="364.56" y2="296.6" stroke="#000" stroke-width="0.85"/>
<line x1="364.56" y1="394.8" x2="364.56" y2="396.8" stroke="#000" stroke-width="0.85"/>
<line x1="364.56" y1="494.9" x2="364.56" y2="495.9" stroke="#000" stroke-width="0.85"/>
<line x1="373.8" y1="295.6" x2="373.8" y2="297.9" stroke="#000" stroke-width="1.15"/>
<line x1="373.8" y1="393.5" x2="373.8" y2="398.1" stroke="#000" stroke-width="1.15"/>
<line x1="373.8" y1="493.6" x2="373.8" y2="495.9" stroke="#000" stroke-width="1.15"/>
<text transform="translate(373.8,514.3) scale(0.97,1)" font-size="14.6" text-anchor="middle" fill="#000">7800</text>
<line x1="383.04" y1="295.6" x2="383.04" y2="296.6" stroke="#000" stroke-width="0.85"/>
<line x1="383.04" y1="394.8" x2="383.04" y2="396.8" stroke="#000" stroke-width="0.85"/>
<line x1="383.04" y1="494.9" x2="383.04" y2="495.9" stroke="#000" stroke-width="0.85"/>
<line x1="392.28" y1="295.6" x2="392.28" y2="296.6" stroke="#000" stroke-width="0.85"/>
<line x1="392.28" y1="394.8" x2="392.28" y2="396.8" stroke="#000" stroke-width="0.85"/>
<line x1="392.28" y1="494.9" x2="392.28" y2="495.9" stroke="#000" stroke-width="0.85"/>
<line x1="401.52" y1="295.6" x2="401.52" y2="296.6" stroke="#000" stroke-width="0.85"/>
<line x1="401.52" y1="394.8" x2="401.52" y2="396.8" stroke="#000" stroke-width="0.85"/>
<line x1="401.52" y1="494.9" x2="401.52" y2="495.9" stroke="#000" stroke-width="0.85"/>
<line x1="410.76" y1="295.6" x2="410.76" y2="296.6" stroke="#000" stroke-width="0.85"/>
<line x1="410.76" y1="394.8" x2="410.76" y2="396.8" stroke="#000" stroke-width="0.85"/>
<line x1="410.76" y1="494.9" x2="410.76" y2="495.9" stroke="#000" stroke-width="0.85"/>
<line x1="420" y1="295.6" x2="420" y2="296.6" stroke="#000" stroke-width="0.85"/>
<line x1="420" y1="394.8" x2="420" y2="396.8" stroke="#000" stroke-width="0.85"/>
<line x1="420" y1="494.9" x2="420" y2="495.9" stroke="#000" stroke-width="0.85"/>
<rect x="50.6" y="295.6" width="372.7" height="200.3" fill="none" stroke="#000" stroke-width="1.35"/>
<line x1="50.6" y1="395.8" x2="423.3" y2="395.8" stroke="#000" stroke-width="1.35"/>
<line x1="50.6" y1="306.6" x2="58" y2="306.6" stroke="#000" stroke-width="1.2"/>
<line x1="415.9" y1="306.6" x2="423.3" y2="306.6" stroke="#000" stroke-width="1.2"/>
<text transform="translate(46.3,311.75) scale(0.97,1)" font-size="14.6" text-anchor="end" fill="#000">2.3</text>
<line x1="50.6" y1="322.42" x2="58" y2="322.42" stroke="#000" stroke-width="1.2"/>
<line x1="415.9" y1="322.42" x2="423.3" y2="322.42" stroke="#000" stroke-width="1.2"/>
<text transform="translate(46.3,327.57) scale(0.97,1)" font-size="14.6" text-anchor="end" fill="#000">2.2</text>
<line x1="50.6" y1="338.24" x2="58" y2="338.24" stroke="#000" stroke-width="1.2"/>
<line x1="415.9" y1="338.24" x2="423.3" y2="338.24" stroke="#000" stroke-width="1.2"/>
<text transform="translate(46.3,343.39) scale(0.97,1)" font-size="14.6" text-anchor="end" fill="#000">2.1</text>
<line x1="50.6" y1="354.06" x2="58" y2="354.06" stroke="#000" stroke-width="1.2"/>
<line x1="415.9" y1="354.06" x2="423.3" y2="354.06" stroke="#000" stroke-width="1.2"/>
<text transform="translate(46.3,359.21) scale(0.97,1)" font-size="14.6" text-anchor="end" fill="#000">2.0</text>
<line x1="50.6" y1="369.88" x2="58" y2="369.88" stroke="#000" stroke-width="1.2"/>
<line x1="415.9" y1="369.88" x2="423.3" y2="369.88" stroke="#000" stroke-width="1.2"/>
<text transform="translate(46.3,375.03) scale(0.97,1)" font-size="14.6" text-anchor="end" fill="#000">1.9</text>
<line x1="50.6" y1="385.7" x2="58" y2="385.7" stroke="#000" stroke-width="1.2"/>
<line x1="415.9" y1="385.7" x2="423.3" y2="385.7" stroke="#000" stroke-width="1.2"/>
<text transform="translate(46.3,390.85) scale(0.97,1)" font-size="14.6" text-anchor="end" fill="#000">1.8</text>
<line x1="50.6" y1="404" x2="58" y2="404" stroke="#000" stroke-width="1.2"/>
<line x1="415.9" y1="404" x2="423.3" y2="404" stroke="#000" stroke-width="1.2"/>
<text transform="translate(46.3,409.15) scale(0.97,1)" font-size="14.6" text-anchor="end" fill="#000">170</text>
<line x1="50.6" y1="425.5" x2="58" y2="425.5" stroke="#000" stroke-width="1.2"/>
<line x1="415.9" y1="425.5" x2="423.3" y2="425.5" stroke="#000" stroke-width="1.2"/>
<text transform="translate(46.3,430.65) scale(0.97,1)" font-size="14.6" text-anchor="end" fill="#000">160</text>
<line x1="50.6" y1="447" x2="58" y2="447" stroke="#000" stroke-width="1.2"/>
<line x1="415.9" y1="447" x2="423.3" y2="447" stroke="#000" stroke-width="1.2"/>
<text transform="translate(46.3,452.15) scale(0.97,1)" font-size="14.6" text-anchor="end" fill="#000">150</text>
<line x1="50.6" y1="468.5" x2="58" y2="468.5" stroke="#000" stroke-width="1.2"/>
<line x1="415.9" y1="468.5" x2="423.3" y2="468.5" stroke="#000" stroke-width="1.2"/>
<text transform="translate(46.3,473.65) scale(0.97,1)" font-size="14.6" text-anchor="end" fill="#000">140</text>
<line x1="50.6" y1="490" x2="58" y2="490" stroke="#000" stroke-width="1.2"/>
<line x1="415.9" y1="490" x2="423.3" y2="490" stroke="#000" stroke-width="1.2"/>
<text transform="translate(46.3,495.15) scale(0.97,1)" font-size="14.6" text-anchor="end" fill="#000">130</text>
<text x="237.35" y="290.9" font-size="12.2" text-anchor="middle" fill="#000">RXJ2044.0+2833</text>
<text transform="translate(237,530.1) scale(0.98,1)" font-size="14.7" text-anchor="middle" fill="#000">HJD − 2450000</text>
<text transform="translate(78.5,327.9) scale(0.97,1)" font-size="14.7" text-anchor="start" fill="#000">V</text>
<text x="72.6" y="424.2" font-size="14">H<tspan font-family="Liberation Serif, serif" font-size="14.5">β</tspan></text>
<text transform="translate(15.4,345.9) rotate(-90)" font-size="14" text-anchor="middle">f<tspan font-size="9.5" dy="3.2" font-family="Liberation Serif, serif">λ</tspan></text>
<text transform="translate(11.4,445.9) rotate(-90)" font-size="14" text-anchor="middle">f<tspan font-size="9.5" dy="3.2">line</tspan></text>
<text transform="translate(407.9,315.3) scale(0.94,1)" font-size="10.2" text-anchor="end" fill="#ff00ff" style="text-rendering:geometricPrecision">KAIT</text>
<text transform="translate(407.9,325.02) scale(0.94,1)" font-size="10.2" text-anchor="end" fill="#ff0000" style="text-rendering:geometricPrecision">LCOGT−1m</text>
<text transform="translate(407.9,334.74) scale(0.94,1)" font-size="10.2" text-anchor="end" fill="#ffa500" style="text-rendering:geometricPrecision">LCOGT−2m</text>
<text transform="translate(407.9,344.46) scale(0.94,1)" font-size="10.2" text-anchor="end" fill="#32cd32" style="text-rendering:geometricPrecision">Liverpool</text>
<text transform="translate(407.9,354.18) scale(0.94,1)" font-size="10.2" text-anchor="end" fill="#228b22" style="text-rendering:geometricPrecision">MLO</text>
<text transform="translate(407.9,363.9) scale(0.94,1)" font-size="10.2" text-anchor="end" fill="#46168f" style="text-rendering:geometricPrecision">WMO</text>
<text transform="translate(407.9,373.62) scale(0.94,1)" font-size="10.2" text-anchor="end" fill="#a020f0" style="text-rendering:geometricPrecision">Whip</text>
<line x1="105.7" y1="451.4" x2="105.7" y2="463.7" stroke="#6c7f94" stroke-width="1.6"/>
<line x1="121.4" y1="462.8" x2="121.4" y2="475.2" stroke="#6c7f94" stroke-width="1.6"/>
<line x1="122.5" y1="470.3" x2="122.5" y2="482.3" stroke="#6c7f94" stroke-width="1.6"/>
<line x1="130.7" y1="447.1" x2="130.7" y2="459.5" stroke="#6c7f94" stroke-width="1.6"/>
<line x1="134.3" y1="453.1" x2="134.3" y2="465.2" stroke="#6c7f94" stroke-width="1.6"/>
<line x1="136.4" y1="459.6" x2="136.4" y2="471.6" stroke="#6c7f94" stroke-width="1.6"/>
<line x1="137.9" y1="462.1" x2="137.9" y2="474.1" stroke="#6c7f94" stroke-width="1.6"/>
<line x1="139.6" y1="470.3" x2="139.6" y2="482.3" stroke="#6c7f94" stroke-width="1.6"/>
<line x1="142.9" y1="451.4" x2="142.9" y2="463.4" stroke="#6c7f94" stroke-width="1.6"/>
<line x1="147.1" y1="466.4" x2="147.1" y2="478" stroke="#6c7f94" stroke-width="1.6"/>
<line x1="148.9" y1="464.6" x2="148.9" y2="476.2" stroke="#6c7f94" stroke-width="1.6"/>
<line x1="155.7" y1="469.9" x2="155.7" y2="481.6" stroke="#6c7f94" stroke-width="1.6"/>
<line x1="156.8" y1="456.7" x2="156.8" y2="468.7" stroke="#6c7f94" stroke-width="1.6"/>
<line x1="158.6" y1="452.4" x2="158.6" y2="464.5" stroke="#6c7f94" stroke-width="1.6"/>
<line x1="163.9" y1="435.3" x2="163.9" y2="448.4" stroke="#6c7f94" stroke-width="1.6"/>
<line x1="173.2" y1="437.1" x2="173.2" y2="450.2" stroke="#6c7f94" stroke-width="1.6"/>
<line x1="176.1" y1="439.6" x2="176.1" y2="452.7" stroke="#6c7f94" stroke-width="1.6"/>
<line x1="177.1" y1="441.7" x2="177.1" y2="454.5" stroke="#6c7f94" stroke-width="1.6"/>
<line x1="178.2" y1="426.4" x2="178.2" y2="439.5" stroke="#6c7f94" stroke-width="1.6"/>
<line x1="187.9" y1="451.4" x2="187.9" y2="463.7" stroke="#6c7f94" stroke-width="1.6"/>
<line x1="190.7" y1="439.9" x2="190.7" y2="452.7" stroke="#6c7f94" stroke-width="1.6"/>
<line x1="193.2" y1="452.1" x2="193.2" y2="464.5" stroke="#6c7f94" stroke-width="1.6"/>
<line x1="197.1" y1="443.1" x2="197.1" y2="455.5" stroke="#6c7f94" stroke-width="1.6"/>
<line x1="203.6" y1="453.1" x2="203.6" y2="465.2" stroke="#6c7f94" stroke-width="1.6"/>
<line x1="204.3" y1="429.2" x2="204.3" y2="442.3" stroke="#6c7f94" stroke-width="1.6"/>
<line x1="210.7" y1="431.7" x2="210.7" y2="444.8" stroke="#6c7f94" stroke-width="1.6"/>
<line x1="212.1" y1="427.4" x2="212.1" y2="440.2" stroke="#6c7f94" stroke-width="1.6"/>
<line x1="213.2" y1="426.4" x2="213.2" y2="439.5" stroke="#6c7f94" stroke-width="1.6"/>
<line x1="216.4" y1="428.9" x2="216.4" y2="441.6" stroke="#6c7f94" stroke-width="1.6"/>
<line x1="219.3" y1="428.1" x2="219.3" y2="440.9" stroke="#6c7f94" stroke-width="1.6"/>
<line x1="221.1" y1="426.4" x2="221.1" y2="438.7" stroke="#6c7f94" stroke-width="1.6"/>
<line x1="222.1" y1="423.9" x2="222.1" y2="436.6" stroke="#6c7f94" stroke-width="1.6"/>
<line x1="228.6" y1="406.7" x2="228.6" y2="420.9" stroke="#6c7f94" stroke-width="1.6"/>
<line x1="231.4" y1="412.1" x2="231.4" y2="425.9" stroke="#6c7f94" stroke-width="1.6"/>
<line x1="241.1" y1="415.6" x2="241.1" y2="428.7" stroke="#6c7f94" stroke-width="1.6"/>
<line x1="244.6" y1="417.4" x2="244.6" y2="430.9" stroke="#6c7f94" stroke-width="1.6"/>
<line x1="253.2" y1="412.1" x2="253.2" y2="425.9" stroke="#6c7f94" stroke-width="1.6"/>
<line x1="266.1" y1="427.4" x2="266.1" y2="440.5" stroke="#6c7f94" stroke-width="1.6"/>
<line x1="276.1" y1="454.2" x2="276.1" y2="467" stroke="#6c7f94" stroke-width="1.6"/>
<line x1="280" y1="453.1" x2="280" y2="466.2" stroke="#6c7f94" stroke-width="1.6"/>
<line x1="283.9" y1="453.1" x2="283.9" y2="465.5" stroke="#6c7f94" stroke-width="1.6"/>
<line x1="290.7" y1="465.6" x2="290.7" y2="478" stroke="#6c7f94" stroke-width="1.6"/>
<line x1="302.1" y1="475.6" x2="302.1" y2="487.7" stroke="#6c7f94" stroke-width="1.6"/>
<line x1="304.6" y1="455.6" x2="304.6" y2="468" stroke="#6c7f94" stroke-width="1.6"/>
<line x1="320.4" y1="463.9" x2="320.4" y2="475.9" stroke="#6c7f94" stroke-width="1.6"/>
<line x1="322.1" y1="455.6" x2="322.1" y2="468" stroke="#6c7f94" stroke-width="1.6"/>
<line x1="330.7" y1="440.6" x2="330.7" y2="453.7" stroke="#6c7f94" stroke-width="1.6"/>
</g>
<clipPath id="c357"><rect x="487.7" y="357.1" width="205.6" height="143.8"/></clipPath>
<path d="M547.1 500.9 L547.1 495.5 L549.2 495.5 L549.2 492.5 L551.3 492.5 L551.3 486.5 L553.4 486.5 L553.4 470 L555.5 470 L555.5 425 L557.3 425 L557.3 383.9 L559.4 383.9 L559.4 363.8 L561.5 363.8 L561.5 414.5 L563.6 414.5 L563.6 454.4 L565.7 454.4 L565.7 488 L567.8 488 L567.8 491 L569.9 491 L569.9 497 L572 497 L572 500.9 Z" fill="#eee789" stroke="#cbbd4c" stroke-width="0.9" stroke-linejoin="miter" clip-path="url(#c357)"/>
<line x1="559.55" y1="357.1" x2="559.55" y2="500.9" stroke="#cdd1d6" stroke-width="0.7"/>
<path d="M487.7 495.5 L488.8 492.03 L489.9 489.88 L491 486.5 L492.5 481.93 L494 476 L495.5 472.77 L497 468.5 L498.5 465.71 L500 462.5 L501.5 460.64 L503 458.6 L504.5 457.64 L506 456.5 L507.5 456.1 L509 455 L510.2 453.85 L511.4 452.9 L513.5 453.5 L515 452.17 L516.5 450.5 L518 447.09 L519.5 443 L521 439.25 L522.5 435.5 L524 432.51 L525.5 428.6 L527 427.89 L528.5 426.5 L530.6 425 L531.8 423.96 L533 420.5 L534.5 416.95 L536 413 L537.5 408.99 L539 405.5 L540.5 402.73 L542 400.4 L543.5 399.49 L545 398.6 L546.5 398.55 L548 397.4 L549.5 396.75 L551 396.5 L552.2 395.98 L553.4 395 L554.6 395.35 L555.8 393.5 L557.9 395.6 L560 394.4 L561.2 393.91 L562.4 396.5 L564.5 398 L566 397.03 L567.5 397.4 L569 398.15 L570.5 398.6 L572 399.29 L573.5 399.5 L575 401.59 L576.5 403.4 L578 404.94 L579.5 407 L581 409.64 L582.5 411.5 L584 414.67 L585.5 417.5 L587 420.94 L588.5 425 L590 429.16 L591.5 430.4 L593 432.41 L594.5 434 L596 435.92 L597.5 438.5 L599 440.69 L600.5 443 L602 445.12 L603.5 447.5 L605 448.21 L606.5 449 L608 448.11 L609.5 450.5 L611 452.46 L612.5 455 L614 457.86 L615.5 459.5 L617 461.05 L618.5 464 L620 466.96 L621.5 470 L623 472.37 L624.5 473.6 L626 475.01 L627.5 475.4 L629 476.6 L630.5 476 L632 476.18 L633.5 478.4 L635 478.79 L636.5 479.6 L638.6 481.4 L639.8 480 L641 479 L642.5 473 L644.6 474.5 L645.8 475.33 L647 475.4 L649.1 474.5 L650.9 479 L653 482 L654.5 484.91 L656 486.5 L657.5 487.89 L659 492.5 L660.5 496.15 L662 498.5 L663.5 500.6" fill="none" stroke="#64798f" stroke-width="1.15" stroke-linejoin="round" clip-path="url(#c357)"/>
<rect x="487.7" y="357.1" width="205.6" height="143.8" fill="none" stroke="#000" stroke-width="1.1"/>
<line x1="487.7" y1="363.9" x2="491.9" y2="363.9" stroke="#000" stroke-width="1"/>
<line x1="689.1" y1="363.9" x2="693.3" y2="363.9" stroke="#000" stroke-width="1"/>
<text transform="translate(483.7,368.45) scale(0.97,1)" font-size="13.4" text-anchor="end" fill="#000">1.00</text>
<line x1="487.7" y1="391.3" x2="491.9" y2="391.3" stroke="#000" stroke-width="1"/>
<line x1="689.1" y1="391.3" x2="693.3" y2="391.3" stroke="#000" stroke-width="1"/>
<text transform="translate(483.7,395.85) scale(0.97,1)" font-size="13.4" text-anchor="end" fill="#000">0.80</text>
<line x1="487.7" y1="418.7" x2="491.9" y2="418.7" stroke="#000" stroke-width="1"/>
<line x1="689.1" y1="418.7" x2="693.3" y2="418.7" stroke="#000" stroke-width="1"/>
<text transform="translate(483.7,423.25) scale(0.97,1)" font-size="13.4" text-anchor="end" fill="#000">0.60</text>
<line x1="487.7" y1="446.1" x2="491.9" y2="446.1" stroke="#000" stroke-width="1"/>
<line x1="689.1" y1="446.1" x2="693.3" y2="446.1" stroke="#000" stroke-width="1"/>
<text transform="translate(483.7,450.65) scale(0.97,1)" font-size="13.4" text-anchor="end" fill="#000">0.40</text>
<line x1="487.7" y1="473.5" x2="491.9" y2="473.5" stroke="#000" stroke-width="1"/>
<line x1="689.1" y1="473.5" x2="693.3" y2="473.5" stroke="#000" stroke-width="1"/>
<text transform="translate(483.7,478.05) scale(0.97,1)" font-size="13.4" text-anchor="end" fill="#000">0.20</text>
<text transform="translate(483.7,500.3) scale(0.97,1)" font-size="13.4" text-anchor="end" fill="#000">0.00</text>
<line x1="487.7" y1="500.9" x2="487.7" y2="504.5" stroke="#000" stroke-width="1"/>
<line x1="487.7" y1="357.1" x2="487.7" y2="360.7" stroke="#000" stroke-width="1"/>
<text transform="translate(487.3,521.1) scale(0.98,1)" font-size="13.3" text-anchor="middle" fill="#000">–20</text>
<line x1="528.82" y1="500.9" x2="528.82" y2="504.5" stroke="#000" stroke-width="1"/>
<line x1="528.82" y1="357.1" x2="528.82" y2="360.7" stroke="#000" stroke-width="1"/>
<text transform="translate(528.82,521.1) scale(0.98,1)" font-size="13.3" text-anchor="middle" fill="#000">0</text>
<line x1="569.94" y1="500.9" x2="569.94" y2="504.5" stroke="#000" stroke-width="1"/>
<line x1="569.94" y1="357.1" x2="569.94" y2="360.7" stroke="#000" stroke-width="1"/>
<text transform="translate(569.94,521.1) scale(0.98,1)" font-size="13.3" text-anchor="middle" fill="#000">20</text>
<line x1="611.06" y1="500.9" x2="611.06" y2="504.5" stroke="#000" stroke-width="1"/>
<line x1="611.06" y1="357.1" x2="611.06" y2="360.7" stroke="#000" stroke-width="1"/>
<text transform="translate(611.06,521.1) scale(0.98,1)" font-size="13.3" text-anchor="middle" fill="#000">40</text>
<line x1="652.18" y1="500.9" x2="652.18" y2="504.5" stroke="#000" stroke-width="1"/>
<line x1="652.18" y1="357.1" x2="652.18" y2="360.7" stroke="#000" stroke-width="1"/>
<text transform="translate(652.18,521.1) scale(0.98,1)" font-size="13.3" text-anchor="middle" fill="#000">60</text>
<line x1="693.3" y1="500.9" x2="693.3" y2="504.5" stroke="#000" stroke-width="1"/>
<line x1="693.3" y1="357.1" x2="693.3" y2="360.7" stroke="#000" stroke-width="1"/>
<text transform="translate(693.3,521.1) scale(0.98,1)" font-size="13.3" text-anchor="middle" fill="#000">80</text>
<text x="590.3" y="535.7" font-size="13.2" text-anchor="middle" fill="#000">Lag (days)</text>
<text transform="translate(448.1,429.3) rotate(-90) scale(0.945,1)" font-size="14.1" text-anchor="middle">CCF / CCCD</text>
<g>
<line x1="69.4" y1="624.4" x2="69.4" y2="626.4" stroke="#ffa500" stroke-width="1.55"/>
<line x1="72" y1="622.4" x2="72" y2="624.4" stroke="#ffa500" stroke-width="1.55"/>
<line x1="75.2" y1="616" x2="75.2" y2="620" stroke="#ffa500" stroke-width="1.55"/>
<line x1="79" y1="619.9" x2="79" y2="622.9" stroke="#ffa500" stroke-width="1.55"/>
<line x1="82.6" y1="622" x2="82.6" y2="626" stroke="#ff0000" stroke-width="1.55"/>
<line x1="85.4" y1="621.6" x2="85.4" y2="631.6" stroke="#ffa500" stroke-width="1.55"/>
<line x1="96.6" y1="640.4" x2="96.6" y2="642.4" stroke="#ffa500" stroke-width="1.55"/>
<line x1="101.4" y1="646.4" x2="101.4" y2="648.4" stroke="#ffa500" stroke-width="1.55"/>
<line x1="106.8" y1="651" x2="106.8" y2="653.4" stroke="#ffa500" stroke-width="1.55"/>
<line x1="109.6" y1="657" x2="109.6" y2="659.4" stroke="#ff0000" stroke-width="1.55"/>
<line x1="112.6" y1="653" x2="112.6" y2="655" stroke="#46168f" stroke-width="1.55"/>
<line x1="114.4" y1="660.8" x2="114.4" y2="663.2" stroke="#ff0000" stroke-width="1.55"/>
<line x1="118" y1="659.6" x2="118" y2="661.6" stroke="#ffa500" stroke-width="1.55"/>
<line x1="120" y1="659" x2="120" y2="661" stroke="#ffa500" stroke-width="1.55"/>
<line x1="123.6" y1="655.5" x2="123.6" y2="660.5" stroke="#ff0000" stroke-width="1.55"/>
<line x1="125.6" y1="659.9" x2="125.6" y2="662.9" stroke="#ff0000" stroke-width="1.55"/>
<line x1="127.6" y1="654.8" x2="127.6" y2="657.2" stroke="#ff0000" stroke-width="1.55"/>
<line x1="129.4" y1="649.4" x2="129.4" y2="653.4" stroke="#ff0000" stroke-width="1.55"/>
<line x1="131" y1="649.8" x2="131" y2="652.2" stroke="#ffa500" stroke-width="1.55"/>
<line x1="134.2" y1="648" x2="134.2" y2="652" stroke="#ff0000" stroke-width="1.55"/>
<line x1="137" y1="650.3" x2="137" y2="652.3" stroke="#ffa500" stroke-width="1.55"/>
<line x1="137" y1="641.5" x2="137" y2="644.1" stroke="#ff0000" stroke-width="1.55"/>
<line x1="139.2" y1="646.5" x2="139.2" y2="648.5" stroke="#ffa500" stroke-width="1.55"/>
<line x1="143.7" y1="640.5" x2="143.7" y2="642.5" stroke="#46168f" stroke-width="1.55"/>
<line x1="145" y1="642.8" x2="145" y2="644.8" stroke="#46168f" stroke-width="1.55"/>
<line x1="146.5" y1="643.4" x2="146.5" y2="645.2" stroke="#ffa500" stroke-width="1.55"/>
<line x1="147.5" y1="640.8" x2="147.5" y2="642.8" stroke="#46168f" stroke-width="1.55"/>
<line x1="148.7" y1="635.8" x2="148.7" y2="637.8" stroke="#46168f" stroke-width="1.55"/>
<line x1="150.3" y1="636.8" x2="150.3" y2="638.8" stroke="#ff0000" stroke-width="1.55"/>
<line x1="151.3" y1="636" x2="151.3" y2="638" stroke="#46168f" stroke-width="1.55"/>
<line x1="150.8" y1="629.3" x2="150.8" y2="634.3" stroke="#a020f0" stroke-width="1.55"/>
<line x1="151.8" y1="629.3" x2="151.8" y2="634.3" stroke="#a020f0" stroke-width="1.55"/>
<line x1="152.8" y1="631.6" x2="152.8" y2="633.4" stroke="#46168f" stroke-width="1.55"/>
<line x1="153.3" y1="627.8" x2="153.3" y2="629.8" stroke="#46168f" stroke-width="1.55"/>
<line x1="154.8" y1="626.3" x2="154.8" y2="628.7" stroke="#ff0000" stroke-width="1.55"/>
<line x1="155.8" y1="625.6" x2="155.8" y2="628" stroke="#ffa500" stroke-width="1.55"/>
<line x1="156" y1="627.3" x2="156" y2="629.7" stroke="#228b22" stroke-width="1.55"/>
<line x1="156.2" y1="629.3" x2="156.2" y2="631.7" stroke="#46168f" stroke-width="1.55"/>
<line x1="155" y1="632.5" x2="155" y2="635.5" stroke="#ff0000" stroke-width="1.55"/>
<line x1="156" y1="633.5" x2="156" y2="641.5" stroke="#ff0000" stroke-width="1.55"/>
<line x1="157.2" y1="629.5" x2="157.2" y2="634.5" stroke="#ff0000" stroke-width="1.55"/>
<line x1="158.5" y1="629" x2="158.5" y2="634" stroke="#ffa500" stroke-width="1.55"/>
<line x1="161.3" y1="621.7" x2="161.3" y2="627.3" stroke="#ff0000" stroke-width="1.55"/>
<line x1="161.8" y1="627.5" x2="161.8" y2="637.5" stroke="#ffa500" stroke-width="1.55"/>
<line x1="164.5" y1="629.5" x2="164.5" y2="632.5" stroke="#ff0000" stroke-width="1.55"/>
<line x1="165.2" y1="633" x2="165.2" y2="635" stroke="#46168f" stroke-width="1.55"/>
<line x1="164.8" y1="635" x2="164.8" y2="637" stroke="#ffa500" stroke-width="1.55"/>
<line x1="166.2" y1="629.3" x2="166.2" y2="631.7" stroke="#228b22" stroke-width="1.55"/>
<line x1="167.2" y1="626" x2="167.2" y2="630" stroke="#ff0000" stroke-width="1.55"/>
<line x1="167.5" y1="631" x2="167.5" y2="633" stroke="#46168f" stroke-width="1.55"/>
<line x1="167.5" y1="633.5" x2="167.5" y2="635.5" stroke="#ffa500" stroke-width="1.55"/>
<line x1="168.5" y1="629" x2="168.5" y2="631" stroke="#ff0000" stroke-width="1.55"/>
<line x1="169.2" y1="630.2" x2="169.2" y2="632.2" stroke="#ffa500" stroke-width="1.55"/>
<line x1="170.5" y1="624" x2="170.5" y2="626" stroke="#ff0000" stroke-width="1.55"/>
<line x1="172" y1="622.3" x2="172" y2="624.7" stroke="#228b22" stroke-width="1.55"/>
<line x1="171" y1="631.3" x2="171" y2="633.7" stroke="#ffa500" stroke-width="1.55"/>
<line x1="171.8" y1="625" x2="171.8" y2="628" stroke="#ff0000" stroke-width="1.55"/>
<line x1="172.5" y1="626.8" x2="172.5" y2="628.8" stroke="#ffa500" stroke-width="1.55"/>
<line x1="173.2" y1="630" x2="173.2" y2="632.4" stroke="#ffa500" stroke-width="1.55"/>
<line x1="173.7" y1="632.5" x2="173.7" y2="635.5" stroke="#ff0000" stroke-width="1.55"/>
<line x1="175" y1="630.3" x2="175" y2="633.3" stroke="#ff0000" stroke-width="1.55"/>
<line x1="176.3" y1="628.5" x2="176.3" y2="630.5" stroke="#ff0000" stroke-width="1.55"/>
<line x1="177.5" y1="626" x2="177.5" y2="629" stroke="#ff0000" stroke-width="1.55"/>
<line x1="177.8" y1="631.5" x2="177.8" y2="633.5" stroke="#46168f" stroke-width="1.55"/>
<line x1="178.5" y1="628.6" x2="178.5" y2="631" stroke="#ff0000" stroke-width="1.55"/>
<line x1="179.5" y1="630.2" x2="179.5" y2="632.2" stroke="#228b22" stroke-width="1.55"/>
<line x1="179.8" y1="633" x2="179.8" y2="636" stroke="#ff0000" stroke-width="1.55"/>
<line x1="181.2" y1="631" x2="181.2" y2="633.4" stroke="#228b22" stroke-width="1.55"/>
<line x1="180.8" y1="633" x2="180.8" y2="635" stroke="#46168f" stroke-width="1.55"/>
<line x1="182.2" y1="633.5" x2="182.2" y2="635.5" stroke="#ff0000" stroke-width="1.55"/>
<line x1="181.7" y1="637.6" x2="181.7" y2="639.4" stroke="#46168f" stroke-width="1.55"/>
<line x1="183" y1="636" x2="183" y2="639" stroke="#ff0000" stroke-width="1.55"/>
<line x1="186" y1="634.7" x2="186" y2="641.7" stroke="#228b22" stroke-width="1.55"/>
<line x1="189" y1="642" x2="189" y2="648" stroke="#ff0000" stroke-width="1.55"/>
<line x1="189.8" y1="642" x2="189.8" y2="645" stroke="#ffa500" stroke-width="1.55"/>
<line x1="191.2" y1="642.3" x2="191.2" y2="644.7" stroke="#ffa500" stroke-width="1.55"/>
<line x1="190.8" y1="637" x2="190.8" y2="640" stroke="#ff0000" stroke-width="1.55"/>
<line x1="191.8" y1="639.5" x2="191.8" y2="641.5" stroke="#228b22" stroke-width="1.55"/>
<line x1="192.5" y1="638.3" x2="192.5" y2="640.7" stroke="#46168f" stroke-width="1.55"/>
<line x1="192.8" y1="633.5" x2="192.8" y2="637.5" stroke="#ff0000" stroke-width="1.55"/>
<line x1="194" y1="636" x2="194" y2="639" stroke="#ff0000" stroke-width="1.55"/>
<line x1="194.5" y1="633.5" x2="194.5" y2="636.5" stroke="#ffa500" stroke-width="1.55"/>
<line x1="195.5" y1="628.8" x2="195.5" y2="631.2" stroke="#ff0000" stroke-width="1.55"/>
<line x1="196.2" y1="634.5" x2="196.2" y2="637.5" stroke="#ffa500" stroke-width="1.55"/>
<line x1="197.2" y1="629.7" x2="197.2" y2="632.7" stroke="#ffa500" stroke-width="1.55"/>
<line x1="198" y1="625" x2="198" y2="628" stroke="#ffa500" stroke-width="1.55"/>
<line x1="198.5" y1="627.5" x2="198.5" y2="629.5" stroke="#228b22" stroke-width="1.55"/>
<line x1="199" y1="631.3" x2="199" y2="633.7" stroke="#ff0000" stroke-width="1.55"/>
<line x1="200.5" y1="624.5" x2="200.5" y2="630.5" stroke="#a020f0" stroke-width="1.55"/>
<line x1="200" y1="631" x2="200" y2="633" stroke="#ffa500" stroke-width="1.55"/>
<line x1="202.5" y1="627.5" x2="202.5" y2="632.5" stroke="#ff0000" stroke-width="1.55"/>
<line x1="202.8" y1="635" x2="202.8" y2="640" stroke="#ff0000" stroke-width="1.55"/>
<line x1="203.5" y1="632" x2="203.5" y2="635" stroke="#228b22" stroke-width="1.55"/>
<line x1="204.5" y1="631" x2="204.5" y2="633" stroke="#ffa500" stroke-width="1.55"/>
<line x1="205.5" y1="626.5" x2="205.5" y2="629.5" stroke="#ff0000" stroke-width="1.55"/>
<line x1="206.5" y1="630.3" x2="206.5" y2="632.7" stroke="#46168f" stroke-width="1.55"/>
<line x1="207.5" y1="626" x2="207.5" y2="632" stroke="#a020f0" stroke-width="1.55"/>
<line x1="208.2" y1="632.5" x2="208.2" y2="635.5" stroke="#ffa500" stroke-width="1.55"/>
<line x1="209.5" y1="622" x2="209.5" y2="631" stroke="#a020f0" stroke-width="1.55"/>
<line x1="209.8" y1="634.5" x2="209.8" y2="637.5" stroke="#ff0000" stroke-width="1.55"/>
<line x1="211" y1="627" x2="211" y2="633" stroke="#ffa500" stroke-width="1.55"/>
<line x1="211.5" y1="630.5" x2="211.5" y2="634.5" stroke="#228b22" stroke-width="1.55"/>
<line x1="212.2" y1="626.5" x2="212.2" y2="631.5" stroke="#ffa500" stroke-width="1.55"/>
<line x1="213" y1="634.5" x2="213" y2="639.5" stroke="#ffa500" stroke-width="1.55"/>
<line x1="213.8" y1="631.5" x2="213.8" y2="636.5" stroke="#228b22" stroke-width="1.55"/>
<line x1="214.2" y1="624" x2="214.2" y2="630" stroke="#46168f" stroke-width="1.55"/>
<line x1="215.2" y1="614.5" x2="215.2" y2="625.5" stroke="#a020f0" stroke-width="1.55"/>
<line x1="215.8" y1="626.5" x2="215.8" y2="629.5" stroke="#ff0000" stroke-width="1.55"/>
<line x1="216" y1="629" x2="216" y2="635" stroke="#ffa500" stroke-width="1.55"/>
<line x1="216.3" y1="622.5" x2="216.3" y2="628.5" stroke="#a020f0" stroke-width="1.55"/>
<line x1="217" y1="621.5" x2="217" y2="624.5" stroke="#ffa500" stroke-width="1.55"/>
<line x1="217.3" y1="625" x2="217.3" y2="627" stroke="#228b22" stroke-width="1.55"/>
<line x1="217.8" y1="617.5" x2="217.8" y2="619.5" stroke="#ff0000" stroke-width="1.55"/>
<line x1="218" y1="618.8" x2="218" y2="621.2" stroke="#ffa500" stroke-width="1.55"/>
<line x1="220.5" y1="616.5" x2="220.5" y2="618.5" stroke="#ff0000" stroke-width="1.55"/>
<line x1="220.8" y1="619.7" x2="220.8" y2="622.7" stroke="#ff00ff" stroke-width="1.55"/>
<line x1="220.5" y1="613" x2="220.5" y2="615" stroke="#ffa500" stroke-width="1.55"/>
<line x1="221.5" y1="615" x2="221.5" y2="617" stroke="#ffa500" stroke-width="1.55"/>
<line x1="222.5" y1="613.5" x2="222.5" y2="615.5" stroke="#ff00ff" stroke-width="1.55"/>
<line x1="222.3" y1="609" x2="222.3" y2="611" stroke="#ffa500" stroke-width="1.55"/>
<line x1="223" y1="611.5" x2="223" y2="613.5" stroke="#46168f" stroke-width="1.55"/>
<line x1="224" y1="610.8" x2="224" y2="613.2" stroke="#ff0000" stroke-width="1.55"/>
<line x1="225.5" y1="612" x2="225.5" y2="615" stroke="#ff0000" stroke-width="1.55"/>
<line x1="224.5" y1="608.5" x2="224.5" y2="610.5" stroke="#ffa500" stroke-width="1.55"/>
<line x1="223.7" y1="603.4" x2="223.7" y2="605.2" stroke="#46168f" stroke-width="1.55"/>
<line x1="225.5" y1="607.5" x2="225.5" y2="609.5" stroke="#228b22" stroke-width="1.55"/>
<line x1="226.5" y1="603" x2="226.5" y2="605" stroke="#ff00ff" stroke-width="1.55"/>
<line x1="227.5" y1="603.8" x2="227.5" y2="606.2" stroke="#ff0000" stroke-width="1.55"/>
<line x1="228.5" y1="605.5" x2="228.5" y2="608.5" stroke="#ff0000" stroke-width="1.55"/>
<line x1="229.5" y1="604.3" x2="229.5" y2="607.3" stroke="#ff0000" stroke-width="1.55"/>
<line x1="228.2" y1="598" x2="228.2" y2="600" stroke="#ffa500" stroke-width="1.55"/>
<line x1="228.8" y1="595" x2="228.8" y2="597" stroke="#ffa500" stroke-width="1.55"/>
<line x1="230" y1="594" x2="230" y2="596" stroke="#ffa500" stroke-width="1.55"/>
<line x1="230.8" y1="589" x2="230.8" y2="591" stroke="#ffa500" stroke-width="1.55"/>
<line x1="231.8" y1="596.8" x2="231.8" y2="598.8" stroke="#228b22" stroke-width="1.55"/>
<line x1="232" y1="591" x2="232" y2="597" stroke="#a020f0" stroke-width="1.55"/>
<line x1="232.7" y1="595.5" x2="232.7" y2="600.5" stroke="#ff0000" stroke-width="1.55"/>
<line x1="233" y1="587.5" x2="233" y2="590.5" stroke="#46168f" stroke-width="1.55"/>
<line x1="234" y1="589.5" x2="234" y2="593.5" stroke="#46168f" stroke-width="1.55"/>
<line x1="234.2" y1="594" x2="234.2" y2="597" stroke="#ff0000" stroke-width="1.55"/>
<line x1="235" y1="590.5" x2="235" y2="596.5" stroke="#a020f0" stroke-width="1.55"/>
<line x1="236" y1="589.5" x2="236" y2="591.5" stroke="#ffa500" stroke-width="1.55"/>
<line x1="235.5" y1="597.5" x2="235.5" y2="608.5" stroke="#ff0000" stroke-width="1.55"/>
<line x1="237" y1="597.5" x2="237" y2="607.5" stroke="#ff0000" stroke-width="1.55"/>
<line x1="237.5" y1="594.5" x2="237.5" y2="596.5" stroke="#ffa500" stroke-width="1.55"/>
<line x1="237.7" y1="595.8" x2="237.7" y2="597.8" stroke="#228b22" stroke-width="1.55"/>
<line x1="238.3" y1="604.5" x2="238.3" y2="607.5" stroke="#ff0000" stroke-width="1.55"/>
<line x1="239.2" y1="602.5" x2="239.2" y2="607.5" stroke="#ffa500" stroke-width="1.55"/>
<line x1="239.8" y1="592" x2="239.8" y2="601" stroke="#a020f0" stroke-width="1.55"/>
<line x1="240.2" y1="599.8" x2="240.2" y2="602.2" stroke="#228b22" stroke-width="1.55"/>
<line x1="241.3" y1="603" x2="241.3" y2="610" stroke="#ff0000" stroke-width="1.55"/>
<line x1="242" y1="603.5" x2="242" y2="605.5" stroke="#ffa500" stroke-width="1.55"/>
<line x1="243.5" y1="596.5" x2="243.5" y2="605.5" stroke="#a020f0" stroke-width="1.55"/>
<line x1="243" y1="605.2" x2="243" y2="607.2" stroke="#ffa500" stroke-width="1.55"/>
<line x1="243.3" y1="606.6" x2="243.3" y2="608.6" stroke="#228b22" stroke-width="1.55"/>
<line x1="244.5" y1="605" x2="244.5" y2="608" stroke="#ffa500" stroke-width="1.55"/>
<line x1="245.2" y1="606.3" x2="245.2" y2="608.7" stroke="#46168f" stroke-width="1.55"/>
<line x1="244.5" y1="610.8" x2="244.5" y2="613.2" stroke="#46168f" stroke-width="1.55"/>
<line x1="245.2" y1="608.5" x2="245.2" y2="610.5" stroke="#ffa500" stroke-width="1.55"/>
<line x1="245.8" y1="609.3" x2="245.8" y2="611.7" stroke="#46168f" stroke-width="1.55"/>
<line x1="246.8" y1="611" x2="246.8" y2="616" stroke="#a020f0" stroke-width="1.55"/>
<line x1="248" y1="616.5" x2="248" y2="618.5" stroke="#ffa500" stroke-width="1.55"/>
<line x1="249" y1="617.5" x2="249" y2="619.5" stroke="#ffa500" stroke-width="1.55"/>
<line x1="250.5" y1="616.5" x2="250.5" y2="620.5" stroke="#a020f0" stroke-width="1.55"/>
<line x1="251.5" y1="617.5" x2="251.5" y2="622.5" stroke="#a020f0" stroke-width="1.55"/>
<line x1="252.2" y1="622.5" x2="252.2" y2="624.5" stroke="#ffa500" stroke-width="1.55"/>
<line x1="252" y1="618.5" x2="252" y2="622.5" stroke="#a020f0" stroke-width="1.55"/>
<line x1="253.5" y1="621" x2="253.5" y2="625" stroke="#a020f0" stroke-width="1.55"/>
<line x1="255.2" y1="622.5" x2="255.2" y2="624.5" stroke="#ffa500" stroke-width="1.55"/>
<line x1="254.5" y1="625.5" x2="254.5" y2="627.5" stroke="#ffa500" stroke-width="1.55"/>
<line x1="258.5" y1="627.5" x2="258.5" y2="629.5" stroke="#46168f" stroke-width="1.55"/>
<line x1="259.5" y1="628.8" x2="259.5" y2="630.8" stroke="#46168f" stroke-width="1.55"/>
<line x1="261" y1="623" x2="261" y2="627.4" stroke="#a020f0" stroke-width="1.55"/>
<line x1="259.3" y1="635.6" x2="259.3" y2="640" stroke="#ff00ff" stroke-width="1.55"/>
<line x1="266" y1="626" x2="266" y2="634" stroke="#a020f0" stroke-width="1.55"/>
<line x1="264.8" y1="628.5" x2="264.8" y2="635.5" stroke="#a020f0" stroke-width="1.55"/>
<line x1="264.5" y1="632" x2="264.5" y2="636" stroke="#46168f" stroke-width="1.55"/>
<line x1="268.2" y1="628.8" x2="268.2" y2="633.2" stroke="#ffa500" stroke-width="1.55"/>
<line x1="270" y1="630" x2="270" y2="637" stroke="#a020f0" stroke-width="1.55"/>
<line x1="272.7" y1="634.8" x2="272.7" y2="638.8" stroke="#a020f0" stroke-width="1.55"/>
<line x1="266" y1="636.5" x2="266" y2="638.5" stroke="#ffa500" stroke-width="1.55"/>
<line x1="265" y1="637.6" x2="265" y2="639.4" stroke="#ff0000" stroke-width="1.55"/>
<line x1="265.7" y1="638" x2="265.7" y2="642" stroke="#46168f" stroke-width="1.55"/>
<line x1="265.5" y1="641.8" x2="265.5" y2="643.8" stroke="#228b22" stroke-width="1.55"/>
<line x1="270.5" y1="636.5" x2="270.5" y2="640.5" stroke="#ffa500" stroke-width="1.55"/>
<line x1="269.7" y1="639.3" x2="269.7" y2="643.7" stroke="#ff00ff" stroke-width="1.55"/>
<line x1="273.2" y1="640.5" x2="273.2" y2="642.5" stroke="#ffa500" stroke-width="1.55"/>
<line x1="275.8" y1="651.3" x2="275.8" y2="653.3" stroke="#ffa500" stroke-width="1.55"/>
<line x1="280" y1="650.8" x2="280" y2="652.8" stroke="#ffa500" stroke-width="1.55"/>
<line x1="282.7" y1="647.7" x2="282.7" y2="650.7" stroke="#ffa500" stroke-width="1.55"/>
<line x1="278.2" y1="657.9" x2="278.2" y2="660.5" stroke="#ff0000" stroke-width="1.55"/>
<line x1="283.8" y1="656" x2="283.8" y2="659" stroke="#ff00ff" stroke-width="1.55"/>
<line x1="285.5" y1="657.3" x2="285.5" y2="659.7" stroke="#ff00ff" stroke-width="1.55"/>
<line x1="285.5" y1="659.2" x2="285.5" y2="661.2" stroke="#ffa500" stroke-width="1.55"/>
<line x1="288.5" y1="658.5" x2="288.5" y2="660.5" stroke="#ffa500" stroke-width="1.55"/>
<line x1="294.3" y1="652.7" x2="294.3" y2="658.3" stroke="#a020f0" stroke-width="1.55"/>
<line x1="295.2" y1="654" x2="295.2" y2="659" stroke="#a020f0" stroke-width="1.55"/>
<line x1="317.8" y1="658.4" x2="317.8" y2="661" stroke="#ff0000" stroke-width="1.55"/>
<line x1="301" y1="664" x2="301" y2="667" stroke="#ff00ff" stroke-width="1.55"/>
<line x1="299.8" y1="666.6" x2="299.8" y2="669" stroke="#ff0000" stroke-width="1.55"/>
<line x1="303.7" y1="665" x2="303.7" y2="668" stroke="#ff00ff" stroke-width="1.55"/>
<line x1="305.5" y1="669.5" x2="305.5" y2="671.5" stroke="#ff0000" stroke-width="1.55"/>
<line x1="309.2" y1="668" x2="309.2" y2="673.6" stroke="#ff00ff" stroke-width="1.55"/>
<line x1="323" y1="659.6" x2="323" y2="662.4" stroke="#228b22" stroke-width="1.55"/>
<line x1="329.2" y1="656.5" x2="329.2" y2="661.5" stroke="#ff00ff" stroke-width="1.55"/>
<line x1="55.78" y1="576.6" x2="55.78" y2="577.6" stroke="#000" stroke-width="0.85"/>
<line x1="55.78" y1="675.7" x2="55.78" y2="677.7" stroke="#000" stroke-width="0.85"/>
<line x1="55.78" y1="776" x2="55.78" y2="777" stroke="#000" stroke-width="0.85"/>
<line x1="65.19" y1="576.6" x2="65.19" y2="577.6" stroke="#000" stroke-width="0.85"/>
<line x1="65.19" y1="675.7" x2="65.19" y2="677.7" stroke="#000" stroke-width="0.85"/>
<line x1="65.19" y1="776" x2="65.19" y2="777" stroke="#000" stroke-width="0.85"/>
<line x1="74.6" y1="576.6" x2="74.6" y2="578.9" stroke="#000" stroke-width="1.15"/>
<line x1="74.6" y1="674.4" x2="74.6" y2="679" stroke="#000" stroke-width="1.15"/>
<line x1="74.6" y1="774.7" x2="74.6" y2="777" stroke="#000" stroke-width="1.15"/>
<text transform="translate(74.6,795.4) scale(0.97,1)" font-size="14.6" text-anchor="middle" fill="#000">7500</text>
<line x1="84.01" y1="576.6" x2="84.01" y2="577.6" stroke="#000" stroke-width="0.85"/>
<line x1="84.01" y1="675.7" x2="84.01" y2="677.7" stroke="#000" stroke-width="0.85"/>
<line x1="84.01" y1="776" x2="84.01" y2="777" stroke="#000" stroke-width="0.85"/>
<line x1="93.42" y1="576.6" x2="93.42" y2="577.6" stroke="#000" stroke-width="0.85"/>
<line x1="93.42" y1="675.7" x2="93.42" y2="677.7" stroke="#000" stroke-width="0.85"/>
<line x1="93.42" y1="776" x2="93.42" y2="777" stroke="#000" stroke-width="0.85"/>
<line x1="102.83" y1="576.6" x2="102.83" y2="577.6" stroke="#000" stroke-width="0.85"/>
<line x1="102.83" y1="675.7" x2="102.83" y2="677.7" stroke="#000" stroke-width="0.85"/>
<line x1="102.83" y1="776" x2="102.83" y2="777" stroke="#000" stroke-width="0.85"/>
<line x1="112.24" y1="576.6" x2="112.24" y2="577.6" stroke="#000" stroke-width="0.85"/>
<line x1="112.24" y1="675.7" x2="112.24" y2="677.7" stroke="#000" stroke-width="0.85"/>
<line x1="112.24" y1="776" x2="112.24" y2="777" stroke="#000" stroke-width="0.85"/>
<line x1="121.65" y1="576.6" x2="121.65" y2="577.6" stroke="#000" stroke-width="0.85"/>
<line x1="121.65" y1="675.7" x2="121.65" y2="677.7" stroke="#000" stroke-width="0.85"/>
<line x1="121.65" y1="776" x2="121.65" y2="777" stroke="#000" stroke-width="0.85"/>
<line x1="131.06" y1="576.6" x2="131.06" y2="577.6" stroke="#000" stroke-width="0.85"/>
<line x1="131.06" y1="675.7" x2="131.06" y2="677.7" stroke="#000" stroke-width="0.85"/>
<line x1="131.06" y1="776" x2="131.06" y2="777" stroke="#000" stroke-width="0.85"/>
<line x1="140.47" y1="576.6" x2="140.47" y2="577.6" stroke="#000" stroke-width="0.85"/>
<line x1="140.47" y1="675.7" x2="140.47" y2="677.7" stroke="#000" stroke-width="0.85"/>
<line x1="140.47" y1="776" x2="140.47" y2="777" stroke="#000" stroke-width="0.85"/>
<line x1="149.88" y1="576.6" x2="149.88" y2="577.6" stroke="#000" stroke-width="0.85"/>
<line x1="149.88" y1="675.7" x2="149.88" y2="677.7" stroke="#000" stroke-width="0.85"/>
<line x1="149.88" y1="776" x2="149.88" y2="777" stroke="#000" stroke-width="0.85"/>
<line x1="159.29" y1="576.6" x2="159.29" y2="577.6" stroke="#000" stroke-width="0.85"/>
<line x1="159.29" y1="675.7" x2="159.29" y2="677.7" stroke="#000" stroke-width="0.85"/>
<line x1="159.29" y1="776" x2="159.29" y2="777" stroke="#000" stroke-width="0.85"/>
<line x1="168.7" y1="576.6" x2="168.7" y2="578.9" stroke="#000" stroke-width="1.15"/>
<line x1="168.7" y1="674.4" x2="168.7" y2="679" stroke="#000" stroke-width="1.15"/>
<line x1="168.7" y1="774.7" x2="168.7" y2="777" stroke="#000" stroke-width="1.15"/>
<text transform="translate(168.7,795.4) scale(0.97,1)" font-size="14.6" text-anchor="middle" fill="#000">7600</text>
<line x1="178.11" y1="576.6" x2="178.11" y2="577.6" stroke="#000" stroke-width="0.85"/>
<line x1="178.11" y1="675.7" x2="178.11" y2="677.7" stroke="#000" stroke-width="0.85"/>
<line x1="178.11" y1="776" x2="178.11" y2="777" stroke="#000" stroke-width="0.85"/>
<line x1="187.52" y1="576.6" x2="187.52" y2="577.6" stroke="#000" stroke-width="0.85"/>
<line x1="187.52" y1="675.7" x2="187.52" y2="677.7" stroke="#000" stroke-width="0.85"/>
<line x1="187.52" y1="776" x2="187.52" y2="777" stroke="#000" stroke-width="0.85"/>
<line x1="196.93" y1="576.6" x2="196.93" y2="577.6" stroke="#000" stroke-width="0.85"/>
<line x1="196.93" y1="675.7" x2="196.93" y2="677.7" stroke="#000" stroke-width="0.85"/>
<line x1="196.93" y1="776" x2="196.93" y2="777" stroke="#000" stroke-width="0.85"/>
<line x1="206.34" y1="576.6" x2="206.34" y2="577.6" stroke="#000" stroke-width="0.85"/>
<line x1="206.34" y1="675.7" x2="206.34" y2="677.7" stroke="#000" stroke-width="0.85"/>
<line x1="206.34" y1="776" x2="206.34" y2="777" stroke="#000" stroke-width="0.85"/>
<line x1="215.75" y1="576.6" x2="215.75" y2="577.6" stroke="#000" stroke-width="0.85"/>
<line x1="215.75" y1="675.7" x2="215.75" y2="677.7" stroke="#000" stroke-width="0.85"/>
<line x1="215.75" y1="776" x2="215.75" y2="777" stroke="#000" stroke-width="0.85"/>
<line x1="225.16" y1="576.6" x2="225.16" y2="577.6" stroke="#000" stroke-width="0.85"/>
<line x1="225.16" y1="675.7" x2="225.16" y2="677.7" stroke="#000" stroke-width="0.85"/>
<line x1="225.16" y1="776" x2="225.16" y2="777" stroke="#000" stroke-width="0.85"/>
<line x1="234.57" y1="576.6" x2="234.57" y2="577.6" stroke="#000" stroke-width="0.85"/>
<line x1="234.57" y1="675.7" x2="234.57" y2="677.7" stroke="#000" stroke-width="0.85"/>
<line x1="234.57" y1="776" x2="234.57" y2="777" stroke="#000" stroke-width="0.85"/>
<line x1="243.98" y1="576.6" x2="243.98" y2="577.6" stroke="#000" stroke-width="0.85"/>
<line x1="243.98" y1="675.7" x2="243.98" y2="677.7" stroke="#000" stroke-width="0.85"/>
<line x1="243.98" y1="776" x2="243.98" y2="777" stroke="#000" stroke-width="0.85"/>
<line x1="253.39" y1="576.6" x2="253.39" y2="577.6" stroke="#000" stroke-width="0.85"/>
<line x1="253.39" y1="675.7" x2="253.39" y2="677.7" stroke="#000" stroke-width="0.85"/>
<line x1="253.39" y1="776" x2="253.39" y2="777" stroke="#000" stroke-width="0.85"/>
<line x1="262.8" y1="576.6" x2="262.8" y2="578.9" stroke="#000" stroke-width="1.15"/>
<line x1="262.8" y1="674.4" x2="262.8" y2="679" stroke="#000" stroke-width="1.15"/>
<line x1="262.8" y1="774.7" x2="262.8" y2="777" stroke="#000" stroke-width="1.15"/>
<text transform="translate(262.8,795.4) scale(0.97,1)" font-size="14.6" text-anchor="middle" fill="#000">7700</text>
<line x1="272.21" y1="576.6" x2="272.21" y2="577.6" stroke="#000" stroke-width="0.85"/>
<line x1="272.21" y1="675.7" x2="272.21" y2="677.7" stroke="#000" stroke-width="0.85"/>
<line x1="272.21" y1="776" x2="272.21" y2="777" stroke="#000" stroke-width="0.85"/>
<line x1="281.62" y1="576.6" x2="281.62" y2="577.6" stroke="#000" stroke-width="0.85"/>
<line x1="281.62" y1="675.7" x2="281.62" y2="677.7" stroke="#000" stroke-width="0.85"/>
<line x1="281.62" y1="776" x2="281.62" y2="777" stroke="#000" stroke-width="0.85"/>
<line x1="291.03" y1="576.6" x2="291.03" y2="577.6" stroke="#000" stroke-width="0.85"/>
<line x1="291.03" y1="675.7" x2="291.03" y2="677.7" stroke="#000" stroke-width="0.85"/>
<line x1="291.03" y1="776" x2="291.03" y2="777" stroke="#000" stroke-width="0.85"/>
<line x1="300.44" y1="576.6" x2="300.44" y2="577.6" stroke="#000" stroke-width="0.85"/>
<line x1="300.44" y1="675.7" x2="300.44" y2="677.7" stroke="#000" stroke-width="0.85"/>
<line x1="300.44" y1="776" x2="300.44" y2="777" stroke="#000" stroke-width="0.85"/>
<line x1="309.85" y1="576.6" x2="309.85" y2="577.6" stroke="#000" stroke-width="0.85"/>
<line x1="309.85" y1="675.7" x2="309.85" y2="677.7" stroke="#000" stroke-width="0.85"/>
<line x1="309.85" y1="776" x2="309.85" y2="777" stroke="#000" stroke-width="0.85"/>
<line x1="319.26" y1="576.6" x2="319.26" y2="577.6" stroke="#000" stroke-width="0.85"/>
<line x1="319.26" y1="675.7" x2="319.26" y2="677.7" stroke="#000" stroke-width="0.85"/>
<line x1="319.26" y1="776" x2="319.26" y2="777" stroke="#000" stroke-width="0.85"/>
<line x1="328.67" y1="576.6" x2="328.67" y2="577.6" stroke="#000" stroke-width="0.85"/>
<line x1="328.67" y1="675.7" x2="328.67" y2="677.7" stroke="#000" stroke-width="0.85"/>
<line x1="328.67" y1="776" x2="328.67" y2="777" stroke="#000" stroke-width="0.85"/>
<line x1="338.08" y1="576.6" x2="338.08" y2="577.6" stroke="#000" stroke-width="0.85"/>
<line x1="338.08" y1="675.7" x2="338.08" y2="677.7" stroke="#000" stroke-width="0.85"/>
<line x1="338.08" y1="776" x2="338.08" y2="777" stroke="#000" stroke-width="0.85"/>
<line x1="347.49" y1="576.6" x2="347.49" y2="577.6" stroke="#000" stroke-width="0.85"/>
<line x1="347.49" y1="675.7" x2="347.49" y2="677.7" stroke="#000" stroke-width="0.85"/>
<line x1="347.49" y1="776" x2="347.49" y2="777" stroke="#000" stroke-width="0.85"/>
<line x1="356.9" y1="576.6" x2="356.9" y2="578.9" stroke="#000" stroke-width="1.15"/>
<line x1="356.9" y1="674.4" x2="356.9" y2="679" stroke="#000" stroke-width="1.15"/>
<line x1="356.9" y1="774.7" x2="356.9" y2="777" stroke="#000" stroke-width="1.15"/>
<text transform="translate(356.9,795.4) scale(0.97,1)" font-size="14.6" text-anchor="middle" fill="#000">7800</text>
<line x1="366.31" y1="576.6" x2="366.31" y2="577.6" stroke="#000" stroke-width="0.85"/>
<line x1="366.31" y1="675.7" x2="366.31" y2="677.7" stroke="#000" stroke-width="0.85"/>
<line x1="366.31" y1="776" x2="366.31" y2="777" stroke="#000" stroke-width="0.85"/>
<line x1="375.72" y1="576.6" x2="375.72" y2="577.6" stroke="#000" stroke-width="0.85"/>
<line x1="375.72" y1="675.7" x2="375.72" y2="677.7" stroke="#000" stroke-width="0.85"/>
<line x1="375.72" y1="776" x2="375.72" y2="777" stroke="#000" stroke-width="0.85"/>
<line x1="385.13" y1="576.6" x2="385.13" y2="577.6" stroke="#000" stroke-width="0.85"/>
<line x1="385.13" y1="675.7" x2="385.13" y2="677.7" stroke="#000" stroke-width="0.85"/>
<line x1="385.13" y1="776" x2="385.13" y2="777" stroke="#000" stroke-width="0.85"/>
<line x1="394.54" y1="576.6" x2="394.54" y2="577.6" stroke="#000" stroke-width="0.85"/>
<line x1="394.54" y1="675.7" x2="394.54" y2="677.7" stroke="#000" stroke-width="0.85"/>
<line x1="394.54" y1="776" x2="394.54" y2="777" stroke="#000" stroke-width="0.85"/>
<line x1="403.95" y1="576.6" x2="403.95" y2="577.6" stroke="#000" stroke-width="0.85"/>
<line x1="403.95" y1="675.7" x2="403.95" y2="677.7" stroke="#000" stroke-width="0.85"/>
<line x1="403.95" y1="776" x2="403.95" y2="777" stroke="#000" stroke-width="0.85"/>
<line x1="413.36" y1="576.6" x2="413.36" y2="577.6" stroke="#000" stroke-width="0.85"/>
<line x1="413.36" y1="675.7" x2="413.36" y2="677.7" stroke="#000" stroke-width="0.85"/>
<line x1="413.36" y1="776" x2="413.36" y2="777" stroke="#000" stroke-width="0.85"/>
<line x1="422.77" y1="576.6" x2="422.77" y2="577.6" stroke="#000" stroke-width="0.85"/>
<line x1="422.77" y1="675.7" x2="422.77" y2="677.7" stroke="#000" stroke-width="0.85"/>
<line x1="422.77" y1="776" x2="422.77" y2="777" stroke="#000" stroke-width="0.85"/>
<rect x="50.6" y="576.6" width="372.7" height="200.4" fill="none" stroke="#000" stroke-width="1.35"/>
<line x1="50.6" y1="676.7" x2="423.3" y2="676.7" stroke="#000" stroke-width="1.35"/>
<line x1="50.6" y1="584.5" x2="58" y2="584.5" stroke="#000" stroke-width="1.2"/>
<line x1="415.9" y1="584.5" x2="423.3" y2="584.5" stroke="#000" stroke-width="1.2"/>
<text transform="translate(46.3,589.65) scale(0.97,1)" font-size="14.6" text-anchor="end" fill="#000">1.6</text>
<line x1="50.6" y1="602.8" x2="58" y2="602.8" stroke="#000" stroke-width="1.2"/>
<line x1="415.9" y1="602.8" x2="423.3" y2="602.8" stroke="#000" stroke-width="1.2"/>
<text transform="translate(46.3,607.95) scale(0.97,1)" font-size="14.6" text-anchor="end" fill="#000">1.5</text>
<line x1="50.6" y1="621.1" x2="58" y2="621.1" stroke="#000" stroke-width="1.2"/>
<line x1="415.9" y1="621.1" x2="423.3" y2="621.1" stroke="#000" stroke-width="1.2"/>
<text transform="translate(46.3,626.25) scale(0.97,1)" font-size="14.6" text-anchor="end" fill="#000">1.4</text>
<line x1="50.6" y1="639.4" x2="58" y2="639.4" stroke="#000" stroke-width="1.2"/>
<line x1="415.9" y1="639.4" x2="423.3" y2="639.4" stroke="#000" stroke-width="1.2"/>
<text transform="translate(46.3,644.55) scale(0.97,1)" font-size="14.6" text-anchor="end" fill="#000">1.3</text>
<line x1="50.6" y1="657.7" x2="58" y2="657.7" stroke="#000" stroke-width="1.2"/>
<line x1="415.9" y1="657.7" x2="423.3" y2="657.7" stroke="#000" stroke-width="1.2"/>
<text transform="translate(46.3,662.85) scale(0.97,1)" font-size="14.6" text-anchor="end" fill="#000">1.2</text>
<line x1="50.6" y1="676" x2="58" y2="676" stroke="#000" stroke-width="1.2"/>
<line x1="415.9" y1="676" x2="423.3" y2="676" stroke="#000" stroke-width="1.2"/>
<text transform="translate(46.3,676.85) scale(0.97,1)" font-size="14.6" text-anchor="end" fill="#000">1.1</text>
<line x1="50.6" y1="687.2" x2="58" y2="687.2" stroke="#000" stroke-width="1.2"/>
<line x1="415.9" y1="687.2" x2="423.3" y2="687.2" stroke="#000" stroke-width="1.2"/>
<text transform="translate(46.3,692.35) scale(0.97,1)" font-size="14.6" text-anchor="end" fill="#000">65</text>
<line x1="50.6" y1="703.3" x2="58" y2="703.3" stroke="#000" stroke-width="1.2"/>
<line x1="415.9" y1="703.3" x2="423.3" y2="703.3" stroke="#000" stroke-width="1.2"/>
<text transform="translate(46.3,708.45) scale(0.97,1)" font-size="14.6" text-anchor="end" fill="#000">60</text>
<line x1="50.6" y1="719.4" x2="58" y2="719.4" stroke="#000" stroke-width="1.2"/>
<line x1="415.9" y1="719.4" x2="423.3" y2="719.4" stroke="#000" stroke-width="1.2"/>
<text transform="translate(46.3,724.55) scale(0.97,1)" font-size="14.6" text-anchor="end" fill="#000">55</text>
<line x1="50.6" y1="735.5" x2="58" y2="735.5" stroke="#000" stroke-width="1.2"/>
<line x1="415.9" y1="735.5" x2="423.3" y2="735.5" stroke="#000" stroke-width="1.2"/>
<text transform="translate(46.3,740.65) scale(0.97,1)" font-size="14.6" text-anchor="end" fill="#000">50</text>
<line x1="50.6" y1="751.6" x2="58" y2="751.6" stroke="#000" stroke-width="1.2"/>
<line x1="415.9" y1="751.6" x2="423.3" y2="751.6" stroke="#000" stroke-width="1.2"/>
<text transform="translate(46.3,756.75) scale(0.97,1)" font-size="14.6" text-anchor="end" fill="#000">45</text>
<line x1="50.6" y1="767.7" x2="58" y2="767.7" stroke="#000" stroke-width="1.2"/>
<line x1="415.9" y1="767.7" x2="423.3" y2="767.7" stroke="#000" stroke-width="1.2"/>
<text transform="translate(46.3,772.85) scale(0.97,1)" font-size="14.6" text-anchor="end" fill="#000">40</text>
<text x="237.35" y="571.9" font-size="12.2" text-anchor="middle" fill="#000">PG2209+184</text>
<text transform="translate(237,811.2) scale(0.98,1)" font-size="14.7" text-anchor="middle" fill="#000">HJD − 2450000</text>
<text transform="translate(79.3,603) scale(0.97,1)" font-size="14.7" text-anchor="start" fill="#000">V</text>
<text x="72.6" y="705.2" font-size="14">H<tspan font-family="Liberation Serif, serif" font-size="14.5">β</tspan></text>
<text transform="translate(15.4,627.2) rotate(-90)" font-size="14" text-anchor="middle">f<tspan font-size="9.5" dy="3.2" font-family="Liberation Serif, serif">λ</tspan></text>
<text transform="translate(19.4,727.5) rotate(-90)" font-size="14" text-anchor="middle">f<tspan font-size="9.5" dy="3.2">line</tspan></text>
<text transform="translate(407.9,596.3) scale(0.94,1)" font-size="10.2" text-anchor="end" fill="#ff00ff" style="text-rendering:geometricPrecision">KAIT</text>
<text transform="translate(407.9,606.02) scale(0.94,1)" font-size="10.2" text-anchor="end" fill="#ff0000" style="text-rendering:geometricPrecision">LCOGT−1m</text>
<text transform="translate(407.9,615.74) scale(0.94,1)" font-size="10.2" text-anchor="end" fill="#ffa500" style="text-rendering:geometricPrecision">LCOGT−2m</text>
<text transform="translate(407.9,625.46) scale(0.94,1)" font-size="10.2" text-anchor="end" fill="#32cd32" style="text-rendering:geometricPrecision">Liverpool</text>
<text transform="translate(407.9,635.18) scale(0.94,1)" font-size="10.2" text-anchor="end" fill="#228b22" style="text-rendering:geometricPrecision">MLO</text>
<text transform="translate(407.9,644.9) scale(0.94,1)" font-size="10.2" text-anchor="end" fill="#46168f" style="text-rendering:geometricPrecision">WMO</text>
<text transform="translate(407.9,654.62) scale(0.94,1)" font-size="10.2" text-anchor="end" fill="#a020f0" style="text-rendering:geometricPrecision">Whip</text>
<clipPath id="hb3"><rect x="50" y="677" width="374" height="100"/></clipPath><g clip-path="url(#hb3)">
<line x1="83.9" y1="670" x2="83.9" y2="695" stroke="#6c7f94" stroke-width="1.6"/>
<line x1="99.7" y1="690.5" x2="99.7" y2="711.5" stroke="#6c7f94" stroke-width="1.6"/>
<line x1="100.5" y1="710.9" x2="100.5" y2="728.5" stroke="#6c7f94" stroke-width="1.6"/>
<line x1="112.4" y1="722.5" x2="112.4" y2="739.3" stroke="#6c7f94" stroke-width="1.6"/>
<line x1="120.9" y1="734.1" x2="120.9" y2="750.1" stroke="#6c7f94" stroke-width="1.6"/>
<line x1="115.5" y1="755.3" x2="115.5" y2="770.2" stroke="#6c7f94" stroke-width="1.6"/>
<line x1="134" y1="751" x2="134" y2="766.3" stroke="#6c7f94" stroke-width="1.6"/>
<line x1="134.8" y1="745.6" x2="134.8" y2="760.5" stroke="#6c7f94" stroke-width="1.6"/>
<line x1="137.1" y1="740.6" x2="137.1" y2="756.7" stroke="#6c7f94" stroke-width="1.6"/>
<line x1="142.5" y1="742.6" x2="142.5" y2="757.8" stroke="#6c7f94" stroke-width="1.6"/>
<line x1="146.4" y1="743.3" x2="146.4" y2="758.6" stroke="#6c7f94" stroke-width="1.6"/>
<line x1="151.8" y1="731" x2="151.8" y2="747" stroke="#6c7f94" stroke-width="1.6"/>
<line x1="154.8" y1="732.9" x2="154.8" y2="748.9" stroke="#6c7f94" stroke-width="1.6"/>
<line x1="156.4" y1="738.7" x2="156.4" y2="753.6" stroke="#6c7f94" stroke-width="1.6"/>
<line x1="166.8" y1="734.8" x2="166.8" y2="750.9" stroke="#6c7f94" stroke-width="1.6"/>
<line x1="169.5" y1="713.6" x2="169.5" y2="731.6" stroke="#6c7f94" stroke-width="1.6"/>
<line x1="171" y1="700.9" x2="171" y2="719.2" stroke="#6c7f94" stroke-width="1.6"/>
<line x1="172.2" y1="709.8" x2="172.2" y2="727.7" stroke="#6c7f94" stroke-width="1.6"/>
<line x1="176.4" y1="710.9" x2="176.4" y2="728.5" stroke="#6c7f94" stroke-width="1.6"/>
<line x1="183.8" y1="717.5" x2="183.8" y2="734.7" stroke="#6c7f94" stroke-width="1.6"/>
<line x1="190.7" y1="711.7" x2="190.7" y2="729.7" stroke="#6c7f94" stroke-width="1.6"/>
<line x1="191.9" y1="727.1" x2="191.9" y2="743.9" stroke="#6c7f94" stroke-width="1.6"/>
<line x1="193" y1="719.4" x2="193" y2="736.2" stroke="#6c7f94" stroke-width="1.6"/>
<line x1="196.1" y1="715.6" x2="196.1" y2="733.5" stroke="#6c7f94" stroke-width="1.6"/>
<line x1="200" y1="726.4" x2="200" y2="743.2" stroke="#6c7f94" stroke-width="1.6"/>
<line x1="202.3" y1="727.9" x2="202.3" y2="745.1" stroke="#6c7f94" stroke-width="1.6"/>
<line x1="208.8" y1="712.5" x2="208.8" y2="729.7" stroke="#6c7f94" stroke-width="1.6"/>
<line x1="221.6" y1="705.9" x2="221.6" y2="724.6" stroke="#6c7f94" stroke-width="1.6"/>
<line x1="225.8" y1="710.9" x2="225.8" y2="728.5" stroke="#6c7f94" stroke-width="1.6"/>
<line x1="245.1" y1="682" x2="245.1" y2="702.7" stroke="#6c7f94" stroke-width="1.6"/>
<line x1="247" y1="691.3" x2="247" y2="711.5" stroke="#6c7f94" stroke-width="1.6"/>
<line x1="257.4" y1="690.5" x2="257.4" y2="710.4" stroke="#6c7f94" stroke-width="1.6"/>
<line x1="264.8" y1="692.4" x2="264.8" y2="712.3" stroke="#6c7f94" stroke-width="1.6"/>
<line x1="272.1" y1="708.6" x2="272.1" y2="727" stroke="#6c7f94" stroke-width="1.6"/>
<line x1="273.2" y1="717.5" x2="273.2" y2="735.4" stroke="#6c7f94" stroke-width="1.6"/>
<line x1="283.7" y1="718.6" x2="283.7" y2="735.4" stroke="#6c7f94" stroke-width="1.6"/>
<line x1="286.7" y1="730.2" x2="286.7" y2="747" stroke="#6c7f94" stroke-width="1.6"/>
<line x1="302.5" y1="765.7" x2="302.5" y2="780.6" stroke="#6c7f94" stroke-width="1.6"/>
<line x1="304.5" y1="752.2" x2="304.5" y2="765.5" stroke="#6c7f94" stroke-width="1.6"/>
<line x1="313" y1="751" x2="313" y2="764.8" stroke="#6c7f94" stroke-width="1.6"/>
</g>
</g>
<clipPath id="c638"><rect x="487.7" y="638.5" width="205.6" height="143.8"/></clipPath>
<path d="M560 782.3 L560 780.9 L562.4 780.9 L562.4 782.1 L572 782.1 L572 779.4 L574.1 779.4 L574.1 777 L575.9 777 L575.9 775.5 L577.7 775.5 L577.7 771 L579.8 771 L579.8 762 L581.6 762 L581.6 733.5 L583.4 733.5 L583.4 702 L585.2 702 L585.2 669 L587.3 669 L587.3 648.6 L589.1 648.6 L589.1 645.3 L592.7 645.3 L592.7 666 L594.5 666 L594.5 700.5 L596.6 700.5 L596.6 719.4 L598.4 719.4 L598.4 748.5 L600.2 748.5 L600.2 753 L602 753 L602 769.5 L603.8 769.5 L603.8 779.1 L605.6 779.1 L605.6 777.6 L609.5 777.6 L609.5 780 L611.6 780 L611.6 782.3 Z" fill="#eee789" stroke="#cbbd4c" stroke-width="0.9" stroke-linejoin="miter" clip-path="url(#c638)"/>
<line x1="589.7" y1="638.5" x2="589.7" y2="782.3" stroke="#cdd1d6" stroke-width="0.7"/>
<path d="M514.4 781.8 L516.5 779.4 L518.6 776.4 L520.4 774.9 L521.6 777 L523.4 773.4 L525.5 769.5 L527 765.63 L528.5 763.5 L530 760.91 L531.5 757.5 L533 752.86 L534.5 750 L536 746.36 L537.5 742.5 L539 739.47 L540.5 735 L542 731.16 L543.5 727.5 L545 724.62 L546.5 721.5 L548 718.98 L549.5 715.5 L551 712.14 L552.5 708.6 L554 705.25 L555.5 702 L557 699.62 L558.5 695.4 L560 693.03 L561.5 689.4 L563 686.52 L564.5 684 L566 683.4 L567.5 679.5 L569 676.56 L570.5 675 L572 673.6 L573.5 671.1 L575 669.14 L576.5 667.5 L578 666.08 L579.5 664.5 L581 664.02 L582.5 662.7 L584 662.53 L585.5 662.1 L587 662.93 L588.5 663 L590.6 662.4 L591.8 660.73 L593 660.9 L594.2 659.84 L595.4 660.6 L596.6 661.42 L597.8 661.5 L599.15 661.97 L600.5 663.6 L602 664.48 L603.5 666.6 L605 667.67 L606.5 670.5 L608 673.51 L609.5 675 L611 678.15 L612.5 680.4 L614 684.28 L615.5 686.4 L617 689.44 L618.5 693.6 L620 697.8 L621.5 702 L623 705.52 L624.5 710.4 L626 715.36 L627.5 719.4 L629 724.4 L630.5 727.5 L632.6 733.5 L633.8 736.72 L635 741 L636.5 746.44 L638 750 L639.5 755.09 L641 759 L642.5 763.69 L644 768.6 L645.5 771.62 L647 777 L648.8 781.8" fill="none" stroke="#64798f" stroke-width="1.15" stroke-linejoin="round" clip-path="url(#c638)"/>
<rect x="487.7" y="638.5" width="205.6" height="143.8" fill="none" stroke="#000" stroke-width="1.1"/>
<line x1="487.7" y1="645.3" x2="491.9" y2="645.3" stroke="#000" stroke-width="1"/>
<line x1="689.1" y1="645.3" x2="693.3" y2="645.3" stroke="#000" stroke-width="1"/>
<text transform="translate(483.7,649.85) scale(0.97,1)" font-size="13.4" text-anchor="end" fill="#000">1.00</text>
<line x1="487.7" y1="672.7" x2="491.9" y2="672.7" stroke="#000" stroke-width="1"/>
<line x1="689.1" y1="672.7" x2="693.3" y2="672.7" stroke="#000" stroke-width="1"/>
<text transform="translate(483.7,677.25) scale(0.97,1)" font-size="13.4" text-anchor="end" fill="#000">0.80</text>
<line x1="487.7" y1="700.1" x2="491.9" y2="700.1" stroke="#000" stroke-width="1"/>
<line x1="689.1" y1="700.1" x2="693.3" y2="700.1" stroke="#000" stroke-width="1"/>
<text transform="translate(483.7,704.65) scale(0.97,1)" font-size="13.4" text-anchor="end" fill="#000">0.60</text>
<line x1="487.7" y1="727.5" x2="491.9" y2="727.5" stroke="#000" stroke-width="1"/>
<line x1="689.1" y1="727.5" x2="693.3" y2="727.5" stroke="#000" stroke-width="1"/>
<text transform="translate(483.7,732.05) scale(0.97,1)" font-size="13.4" text-anchor="end" fill="#000">0.40</text>
<line x1="487.7" y1="754.9" x2="491.9" y2="754.9" stroke="#000" stroke-width="1"/>
<line x1="689.1" y1="754.9" x2="693.3" y2="754.9" stroke="#000" stroke-width="1"/>
<text transform="translate(483.7,759.45) scale(0.97,1)" font-size="13.4" text-anchor="end" fill="#000">0.20</text>
<text transform="translate(483.7,781.7) scale(0.97,1)" font-size="13.4" text-anchor="end" fill="#000">0.00</text>
<line x1="487.7" y1="782.3" x2="487.7" y2="785.9" stroke="#000" stroke-width="1"/>
<line x1="487.7" y1="638.5" x2="487.7" y2="642.1" stroke="#000" stroke-width="1"/>
<text transform="translate(487.3,802.5) scale(0.98,1)" font-size="13.3" text-anchor="middle" fill="#000">–40</text>
<line x1="525.08" y1="782.3" x2="525.08" y2="785.9" stroke="#000" stroke-width="1"/>
<line x1="525.08" y1="638.5" x2="525.08" y2="642.1" stroke="#000" stroke-width="1"/>
<text transform="translate(524.68,802.5) scale(0.98,1)" font-size="13.3" text-anchor="middle" fill="#000">–20</text>
<line x1="562.46" y1="782.3" x2="562.46" y2="785.9" stroke="#000" stroke-width="1"/>
<line x1="562.46" y1="638.5" x2="562.46" y2="642.1" stroke="#000" stroke-width="1"/>
<text transform="translate(562.46,802.5) scale(0.98,1)" font-size="13.3" text-anchor="middle" fill="#000">0</text>
<line x1="599.85" y1="782.3" x2="599.85" y2="785.9" stroke="#000" stroke-width="1"/>
<line x1="599.85" y1="638.5" x2="599.85" y2="642.1" stroke="#000" stroke-width="1"/>
<text transform="translate(599.85,802.5) scale(0.98,1)" font-size="13.3" text-anchor="middle" fill="#000">20</text>
<line x1="637.23" y1="782.3" x2="637.23" y2="785.9" stroke="#000" stroke-width="1"/>
<line x1="637.23" y1="638.5" x2="637.23" y2="642.1" stroke="#000" stroke-width="1"/>
<text transform="translate(637.23,802.5) scale(0.98,1)" font-size="13.3" text-anchor="middle" fill="#000">40</text>
<line x1="674.61" y1="782.3" x2="674.61" y2="785.9" stroke="#000" stroke-width="1"/>
<line x1="674.61" y1="638.5" x2="674.61" y2="642.1" stroke="#000" stroke-width="1"/>
<text transform="translate(674.61,802.5) scale(0.98,1)" font-size="13.3" text-anchor="middle" fill="#000">60</text>
<text x="590.3" y="817.1" font-size="13.2" text-anchor="middle" fill="#000">Lag (days)</text>
<text transform="translate(448.1,710.7) rotate(-90) scale(0.945,1)" font-size="14.1" text-anchor="middle">CCF / CCCD</text>
</svg>
</body></html>
